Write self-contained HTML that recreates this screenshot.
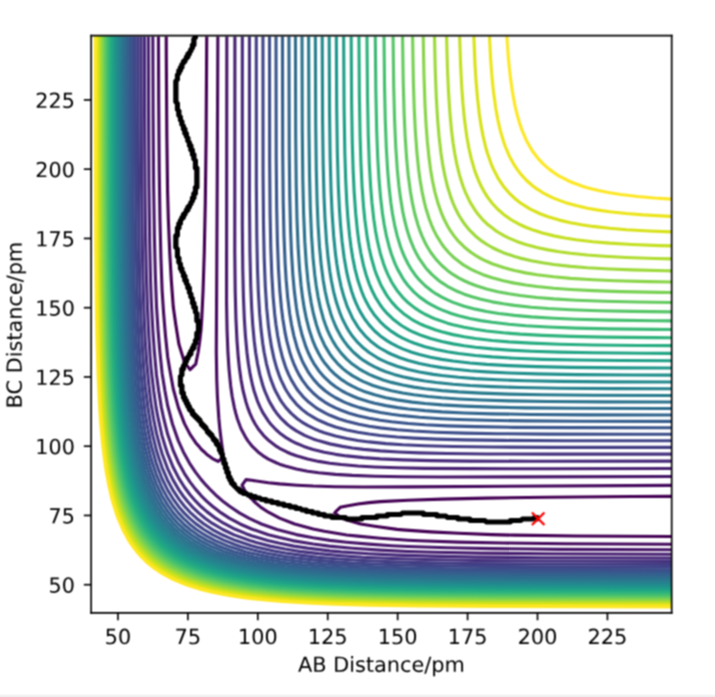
<!DOCTYPE html>
<html><head><meta charset="utf-8"><title>Potential energy surface</title>
<style>html,body{margin:0;padding:0;background:#fff;width:715px;height:697px;overflow:hidden;font-family:"Liberation Sans",sans-serif;}#fig{position:absolute;left:0;top:0;width:715px;height:697px;}#fig svg{display:block}#bar{position:absolute;left:0;top:694px;width:715px;height:3px;background:linear-gradient(#fbfbfb,#ececec);}</style></head>
<body><div id="fig"><svg width="715" height="697" viewBox="0 0 343.2 334.56" version="1.1">
 
 <defs>
  <style type="text/css">*{stroke-linejoin: round; stroke-linecap: butt}</style>
 </defs>
 <filter id="soft" x="0" y="0" width="343.2" height="334.56" filterUnits="userSpaceOnUse" color-interpolation-filters="sRGB"><feConvolveMatrix order="3" kernelMatrix="1 2 1 2 4 2 1 2 1" divisor="16" edgeMode="duplicate" preserveAlpha="false"/></filter><g id="figure_1" filter="url(#soft)">
  <g id="patch_1">
   <path d="M 0 334.56 
L 343.2 334.56 
L 343.2 0 
L 0 0 
z
" style="fill: #ffffff"/>
  </g>
  <g id="axes_1">
   <g id="patch_2">
    <path d="M 43.7472 294.216 
L 322.416 294.216 
L 322.416 17.112 
L 43.7472 17.112 
z
" style="fill: #ffffff"/>
   </g>
   <g id="matplotlib.axis_1">
    <g id="xtick_1">
     <g id="line2d_1">
      <defs>
       <path id="m1504cfccaf" d="M 0 0 
L 0 3.5 
" style="stroke: #000000; stroke-width: 0.8"/>
      </defs>
      <g>
       <use href="#m1504cfccaf" x="56.612839" y="294.216" style="stroke: #000000; stroke-width: 0.8"/>
      </g>
     </g>
     <g id="text_1" transform="translate(0.0000 0.3360)">
      <!-- 50 -->
      <g transform="translate(50.250339 308.814438) scale(0.1 -0.1)">
       <defs>
        <path id="DejaVuSans-35" d="M 691 4666 
L 3169 4666 
L 3169 4134 
L 1269 4134 
L 1269 2991 
Q 1406 3038 1543 3061 
Q 1681 3084 1819 3084 
Q 2600 3084 3056 2656 
Q 3513 2228 3513 1497 
Q 3513 744 3044 326 
Q 2575 -91 1722 -91 
Q 1428 -91 1123 -41 
Q 819 9 494 109 
L 494 744 
Q 775 591 1075 516 
Q 1375 441 1709 441 
Q 2250 441 2565 725 
Q 2881 1009 2881 1497 
Q 2881 1984 2565 2268 
Q 2250 2553 1709 2553 
Q 1456 2553 1204 2497 
Q 953 2441 691 2322 
L 691 4666 
z
" transform="scale(0.015625)"/>
        <path id="DejaVuSans-30" d="M 2034 4250 
Q 1547 4250 1301 3770 
Q 1056 3291 1056 2328 
Q 1056 1369 1301 889 
Q 1547 409 2034 409 
Q 2525 409 2770 889 
Q 3016 1369 3016 2328 
Q 3016 3291 2770 3770 
Q 2525 4250 2034 4250 
z
M 2034 4750 
Q 2819 4750 3233 4129 
Q 3647 3509 3647 2328 
Q 3647 1150 3233 529 
Q 2819 -91 2034 -91 
Q 1250 -91 836 529 
Q 422 1150 422 2328 
Q 422 3509 836 4129 
Q 1250 4750 2034 4750 
z
" transform="scale(0.015625)"/>
       </defs>
       <use href="#DejaVuSans-35"/>
       <use href="#DejaVuSans-30" transform="translate(63.623047 0)"/>
      </g>
     </g>
    </g>
    <g id="xtick_2">
     <g id="line2d_2">
      <g>
       <use href="#m1504cfccaf" x="90.178302" y="294.216" style="stroke: #000000; stroke-width: 0.8"/>
      </g>
     </g>
     <g id="text_2" transform="translate(0.0000 0.3360)">
      <!-- 75 -->
      <g transform="translate(83.815802 308.814438) scale(0.1 -0.1)">
       <defs>
        <path id="DejaVuSans-37" d="M 525 4666 
L 3525 4666 
L 3525 4397 
L 1831 0 
L 1172 0 
L 2766 4134 
L 525 4134 
L 525 4666 
z
" transform="scale(0.015625)"/>
       </defs>
       <use href="#DejaVuSans-37"/>
       <use href="#DejaVuSans-35" transform="translate(63.623047 0)"/>
      </g>
     </g>
    </g>
    <g id="xtick_3">
     <g id="line2d_3">
      <g>
       <use href="#m1504cfccaf" x="123.743766" y="294.216" style="stroke: #000000; stroke-width: 0.8"/>
      </g>
     </g>
     <g id="text_3" transform="translate(0.0000 0.3360)">
      <!-- 100 -->
      <g transform="translate(114.200016 308.814438) scale(0.1 -0.1)">
       <defs>
        <path id="DejaVuSans-31" d="M 794 531 
L 1825 531 
L 1825 4091 
L 703 3866 
L 703 4441 
L 1819 4666 
L 2450 4666 
L 2450 531 
L 3481 531 
L 3481 0 
L 794 0 
L 794 531 
z
" transform="scale(0.015625)"/>
       </defs>
       <use href="#DejaVuSans-31"/>
       <use href="#DejaVuSans-30" transform="translate(63.623047 0)"/>
       <use href="#DejaVuSans-30" transform="translate(127.246094 0)"/>
      </g>
     </g>
    </g>
    <g id="xtick_4">
     <g id="line2d_4">
      <g>
       <use href="#m1504cfccaf" x="157.309229" y="294.216" style="stroke: #000000; stroke-width: 0.8"/>
      </g>
     </g>
     <g id="text_4" transform="translate(0.0000 0.3360)">
      <!-- 125 -->
      <g transform="translate(147.765479 308.814438) scale(0.1 -0.1)">
       <defs>
        <path id="DejaVuSans-32" d="M 1228 531 
L 3431 531 
L 3431 0 
L 469 0 
L 469 531 
Q 828 903 1448 1529 
Q 2069 2156 2228 2338 
Q 2531 2678 2651 2914 
Q 2772 3150 2772 3378 
Q 2772 3750 2511 3984 
Q 2250 4219 1831 4219 
Q 1534 4219 1204 4116 
Q 875 4013 500 3803 
L 500 4441 
Q 881 4594 1212 4672 
Q 1544 4750 1819 4750 
Q 2544 4750 2975 4387 
Q 3406 4025 3406 3419 
Q 3406 3131 3298 2873 
Q 3191 2616 2906 2266 
Q 2828 2175 2409 1742 
Q 1991 1309 1228 531 
z
" transform="scale(0.015625)"/>
       </defs>
       <use href="#DejaVuSans-31"/>
       <use href="#DejaVuSans-32" transform="translate(63.623047 0)"/>
       <use href="#DejaVuSans-35" transform="translate(127.246094 0)"/>
      </g>
     </g>
    </g>
    <g id="xtick_5">
     <g id="line2d_5">
      <g>
       <use href="#m1504cfccaf" x="190.874693" y="294.216" style="stroke: #000000; stroke-width: 0.8"/>
      </g>
     </g>
     <g id="text_5" transform="translate(0.0000 0.3360)">
      <!-- 150 -->
      <g transform="translate(181.330943 308.814438) scale(0.1 -0.1)">
       <use href="#DejaVuSans-31"/>
       <use href="#DejaVuSans-35" transform="translate(63.623047 0)"/>
       <use href="#DejaVuSans-30" transform="translate(127.246094 0)"/>
      </g>
     </g>
    </g>
    <g id="xtick_6">
     <g id="line2d_6">
      <g>
       <use href="#m1504cfccaf" x="224.440156" y="294.216" style="stroke: #000000; stroke-width: 0.8"/>
      </g>
     </g>
     <g id="text_6" transform="translate(0.0000 0.3360)">
      <!-- 175 -->
      <g transform="translate(214.896406 308.814438) scale(0.1 -0.1)">
       <use href="#DejaVuSans-31"/>
       <use href="#DejaVuSans-37" transform="translate(63.623047 0)"/>
       <use href="#DejaVuSans-35" transform="translate(127.246094 0)"/>
      </g>
     </g>
    </g>
    <g id="xtick_7">
     <g id="line2d_7">
      <g>
       <use href="#m1504cfccaf" x="258.005619" y="294.216" style="stroke: #000000; stroke-width: 0.8"/>
      </g>
     </g>
     <g id="text_7" transform="translate(0.0000 0.3360)">
      <!-- 200 -->
      <g transform="translate(248.461869 308.814438) scale(0.1 -0.1)">
       <use href="#DejaVuSans-32"/>
       <use href="#DejaVuSans-30" transform="translate(63.623047 0)"/>
       <use href="#DejaVuSans-30" transform="translate(127.246094 0)"/>
      </g>
     </g>
    </g>
    <g id="xtick_8">
     <g id="line2d_8">
      <g>
       <use href="#m1504cfccaf" x="291.571083" y="294.216" style="stroke: #000000; stroke-width: 0.8"/>
      </g>
     </g>
     <g id="text_8" transform="translate(0.0000 0.3360)">
      <!-- 225 -->
      <g transform="translate(282.027333 308.814438) scale(0.1 -0.1)">
       <use href="#DejaVuSans-32"/>
       <use href="#DejaVuSans-32" transform="translate(63.623047 0)"/>
       <use href="#DejaVuSans-35" transform="translate(127.246094 0)"/>
      </g>
     </g>
    </g>
    <g id="text_9">
     <!-- AB Distance/pm -->
     <g transform="translate(143.05035 322.492563) scale(0.1 -0.1)">
      <defs>
       <path id="DejaVuSans-41" d="M 2188 4044 
L 1331 1722 
L 3047 1722 
L 2188 4044 
z
M 1831 4666 
L 2547 4666 
L 4325 0 
L 3669 0 
L 3244 1197 
L 1141 1197 
L 716 0 
L 50 0 
L 1831 4666 
z
" transform="scale(0.015625)"/>
       <path id="DejaVuSans-42" d="M 1259 2228 
L 1259 519 
L 2272 519 
Q 2781 519 3026 730 
Q 3272 941 3272 1375 
Q 3272 1813 3026 2020 
Q 2781 2228 2272 2228 
L 1259 2228 
z
M 1259 4147 
L 1259 2741 
L 2194 2741 
Q 2656 2741 2882 2914 
Q 3109 3088 3109 3444 
Q 3109 3797 2882 3972 
Q 2656 4147 2194 4147 
L 1259 4147 
z
M 628 4666 
L 2241 4666 
Q 2963 4666 3353 4366 
Q 3744 4066 3744 3513 
Q 3744 3084 3544 2831 
Q 3344 2578 2956 2516 
Q 3422 2416 3680 2098 
Q 3938 1781 3938 1306 
Q 3938 681 3513 340 
Q 3088 0 2303 0 
L 628 0 
L 628 4666 
z
" transform="scale(0.015625)"/>
       <path id="DejaVuSans-20" transform="scale(0.015625)"/>
       <path id="DejaVuSans-44" d="M 1259 4147 
L 1259 519 
L 2022 519 
Q 2988 519 3436 956 
Q 3884 1394 3884 2338 
Q 3884 3275 3436 3711 
Q 2988 4147 2022 4147 
L 1259 4147 
z
M 628 4666 
L 1925 4666 
Q 3281 4666 3915 4102 
Q 4550 3538 4550 2338 
Q 4550 1131 3912 565 
Q 3275 0 1925 0 
L 628 0 
L 628 4666 
z
" transform="scale(0.015625)"/>
       <path id="DejaVuSans-69" d="M 603 3500 
L 1178 3500 
L 1178 0 
L 603 0 
L 603 3500 
z
M 603 4863 
L 1178 4863 
L 1178 4134 
L 603 4134 
L 603 4863 
z
" transform="scale(0.015625)"/>
       <path id="DejaVuSans-73" d="M 2834 3397 
L 2834 2853 
Q 2591 2978 2328 3040 
Q 2066 3103 1784 3103 
Q 1356 3103 1142 2972 
Q 928 2841 928 2578 
Q 928 2378 1081 2264 
Q 1234 2150 1697 2047 
L 1894 2003 
Q 2506 1872 2764 1633 
Q 3022 1394 3022 966 
Q 3022 478 2636 193 
Q 2250 -91 1575 -91 
Q 1294 -91 989 -36 
Q 684 19 347 128 
L 347 722 
Q 666 556 975 473 
Q 1284 391 1588 391 
Q 1994 391 2212 530 
Q 2431 669 2431 922 
Q 2431 1156 2273 1281 
Q 2116 1406 1581 1522 
L 1381 1569 
Q 847 1681 609 1914 
Q 372 2147 372 2553 
Q 372 3047 722 3315 
Q 1072 3584 1716 3584 
Q 2034 3584 2315 3537 
Q 2597 3491 2834 3397 
z
" transform="scale(0.015625)"/>
       <path id="DejaVuSans-74" d="M 1172 4494 
L 1172 3500 
L 2356 3500 
L 2356 3053 
L 1172 3053 
L 1172 1153 
Q 1172 725 1289 603 
Q 1406 481 1766 481 
L 2356 481 
L 2356 0 
L 1766 0 
Q 1100 0 847 248 
Q 594 497 594 1153 
L 594 3053 
L 172 3053 
L 172 3500 
L 594 3500 
L 594 4494 
L 1172 4494 
z
" transform="scale(0.015625)"/>
       <path id="DejaVuSans-61" d="M 2194 1759 
Q 1497 1759 1228 1600 
Q 959 1441 959 1056 
Q 959 750 1161 570 
Q 1363 391 1709 391 
Q 2188 391 2477 730 
Q 2766 1069 2766 1631 
L 2766 1759 
L 2194 1759 
z
M 3341 1997 
L 3341 0 
L 2766 0 
L 2766 531 
Q 2569 213 2275 61 
Q 1981 -91 1556 -91 
Q 1019 -91 701 211 
Q 384 513 384 1019 
Q 384 1609 779 1909 
Q 1175 2209 1959 2209 
L 2766 2209 
L 2766 2266 
Q 2766 2663 2505 2880 
Q 2244 3097 1772 3097 
Q 1472 3097 1187 3025 
Q 903 2953 641 2809 
L 641 3341 
Q 956 3463 1253 3523 
Q 1550 3584 1831 3584 
Q 2591 3584 2966 3190 
Q 3341 2797 3341 1997 
z
" transform="scale(0.015625)"/>
       <path id="DejaVuSans-6e" d="M 3513 2113 
L 3513 0 
L 2938 0 
L 2938 2094 
Q 2938 2591 2744 2837 
Q 2550 3084 2163 3084 
Q 1697 3084 1428 2787 
Q 1159 2491 1159 1978 
L 1159 0 
L 581 0 
L 581 3500 
L 1159 3500 
L 1159 2956 
Q 1366 3272 1645 3428 
Q 1925 3584 2291 3584 
Q 2894 3584 3203 3211 
Q 3513 2838 3513 2113 
z
" transform="scale(0.015625)"/>
       <path id="DejaVuSans-63" d="M 3122 3366 
L 3122 2828 
Q 2878 2963 2633 3030 
Q 2388 3097 2138 3097 
Q 1578 3097 1268 2742 
Q 959 2388 959 1747 
Q 959 1106 1268 751 
Q 1578 397 2138 397 
Q 2388 397 2633 464 
Q 2878 531 3122 666 
L 3122 134 
Q 2881 22 2623 -34 
Q 2366 -91 2075 -91 
Q 1284 -91 818 406 
Q 353 903 353 1747 
Q 353 2603 823 3093 
Q 1294 3584 2113 3584 
Q 2378 3584 2631 3529 
Q 2884 3475 3122 3366 
z
" transform="scale(0.015625)"/>
       <path id="DejaVuSans-65" d="M 3597 1894 
L 3597 1613 
L 953 1613 
Q 991 1019 1311 708 
Q 1631 397 2203 397 
Q 2534 397 2845 478 
Q 3156 559 3463 722 
L 3463 178 
Q 3153 47 2828 -22 
Q 2503 -91 2169 -91 
Q 1331 -91 842 396 
Q 353 884 353 1716 
Q 353 2575 817 3079 
Q 1281 3584 2069 3584 
Q 2775 3584 3186 3129 
Q 3597 2675 3597 1894 
z
M 3022 2063 
Q 3016 2534 2758 2815 
Q 2500 3097 2075 3097 
Q 1594 3097 1305 2825 
Q 1016 2553 972 2059 
L 3022 2063 
z
" transform="scale(0.015625)"/>
       <path id="DejaVuSans-2f" d="M 1625 4666 
L 2156 4666 
L 531 -594 
L 0 -594 
L 1625 4666 
z
" transform="scale(0.015625)"/>
       <path id="DejaVuSans-70" d="M 1159 525 
L 1159 -1331 
L 581 -1331 
L 581 3500 
L 1159 3500 
L 1159 2969 
Q 1341 3281 1617 3432 
Q 1894 3584 2278 3584 
Q 2916 3584 3314 3078 
Q 3713 2572 3713 1747 
Q 3713 922 3314 415 
Q 2916 -91 2278 -91 
Q 1894 -91 1617 61 
Q 1341 213 1159 525 
z
M 3116 1747 
Q 3116 2381 2855 2742 
Q 2594 3103 2138 3103 
Q 1681 3103 1420 2742 
Q 1159 2381 1159 1747 
Q 1159 1113 1420 752 
Q 1681 391 2138 391 
Q 2594 391 2855 752 
Q 3116 1113 3116 1747 
z
" transform="scale(0.015625)"/>
       <path id="DejaVuSans-6d" d="M 3328 2828 
Q 3544 3216 3844 3400 
Q 4144 3584 4550 3584 
Q 5097 3584 5394 3201 
Q 5691 2819 5691 2113 
L 5691 0 
L 5113 0 
L 5113 2094 
Q 5113 2597 4934 2840 
Q 4756 3084 4391 3084 
Q 3944 3084 3684 2787 
Q 3425 2491 3425 1978 
L 3425 0 
L 2847 0 
L 2847 2094 
Q 2847 2600 2669 2842 
Q 2491 3084 2119 3084 
Q 1678 3084 1418 2786 
Q 1159 2488 1159 1978 
L 1159 0 
L 581 0 
L 581 3500 
L 1159 3500 
L 1159 2956 
Q 1356 3278 1631 3431 
Q 1906 3584 2284 3584 
Q 2666 3584 2933 3390 
Q 3200 3197 3328 2828 
z
" transform="scale(0.015625)"/>
      </defs>
      <use href="#DejaVuSans-41"/>
      <use href="#DejaVuSans-42" transform="translate(68.408203 0)"/>
      <use href="#DejaVuSans-20" transform="translate(137.011719 0)"/>
      <use href="#DejaVuSans-44" transform="translate(168.798828 0)"/>
      <use href="#DejaVuSans-69" transform="translate(245.800781 0)"/>
      <use href="#DejaVuSans-73" transform="translate(273.583984 0)"/>
      <use href="#DejaVuSans-74" transform="translate(325.683594 0)"/>
      <use href="#DejaVuSans-61" transform="translate(364.892578 0)"/>
      <use href="#DejaVuSans-6e" transform="translate(426.171875 0)"/>
      <use href="#DejaVuSans-63" transform="translate(489.550781 0)"/>
      <use href="#DejaVuSans-65" transform="translate(544.53125 0)"/>
      <use href="#DejaVuSans-2f" transform="translate(606.054688 0)"/>
      <use href="#DejaVuSans-70" transform="translate(639.746094 0)"/>
      <use href="#DejaVuSans-6d" transform="translate(703.222656 0)"/>
     </g>
    </g>
   </g>
   <g id="matplotlib.axis_2">
    <g id="ytick_1">
     <g id="line2d_9">
      <defs>
       <path id="m5d545ce8f8" d="M 0 0 
L -3.5 0 
" style="stroke: #000000; stroke-width: 0.8"/>
      </defs>
      <g>
       <use href="#m5d545ce8f8" x="43.7472" y="280.661298" style="stroke: #000000; stroke-width: 0.8"/>
      </g>
     </g>
     <g id="text_10" transform="translate(-0.7680 0.0000)">
      <!-- 50 -->
      <g transform="translate(24.0222 284.460516) scale(0.1 -0.1)">
       <use href="#DejaVuSans-35"/>
       <use href="#DejaVuSans-30" transform="translate(63.623047 0)"/>
      </g>
     </g>
    </g>
    <g id="ytick_2">
     <g id="line2d_10">
      <g>
       <use href="#m5d545ce8f8" x="43.7472" y="247.420156" style="stroke: #000000; stroke-width: 0.8"/>
      </g>
     </g>
     <g id="text_11" transform="translate(-0.7680 0.0000)">
      <!-- 75 -->
      <g transform="translate(24.0222 251.219375) scale(0.1 -0.1)">
       <use href="#DejaVuSans-37"/>
       <use href="#DejaVuSans-35" transform="translate(63.623047 0)"/>
      </g>
     </g>
    </g>
    <g id="ytick_3">
     <g id="line2d_11">
      <g>
       <use href="#m5d545ce8f8" x="43.7472" y="214.179015" style="stroke: #000000; stroke-width: 0.8"/>
      </g>
     </g>
     <g id="text_12" transform="translate(-0.7680 0.0000)">
      <!-- 100 -->
      <g transform="translate(17.6597 217.978233) scale(0.1 -0.1)">
       <use href="#DejaVuSans-31"/>
       <use href="#DejaVuSans-30" transform="translate(63.623047 0)"/>
       <use href="#DejaVuSans-30" transform="translate(127.246094 0)"/>
      </g>
     </g>
    </g>
    <g id="ytick_4">
     <g id="line2d_12">
      <g>
       <use href="#m5d545ce8f8" x="43.7472" y="180.937873" style="stroke: #000000; stroke-width: 0.8"/>
      </g>
     </g>
     <g id="text_13" transform="translate(-0.7680 0.0000)">
      <!-- 125 -->
      <g transform="translate(17.6597 184.737092) scale(0.1 -0.1)">
       <use href="#DejaVuSans-31"/>
       <use href="#DejaVuSans-32" transform="translate(63.623047 0)"/>
       <use href="#DejaVuSans-35" transform="translate(127.246094 0)"/>
      </g>
     </g>
    </g>
    <g id="ytick_5">
     <g id="line2d_13">
      <g>
       <use href="#m5d545ce8f8" x="43.7472" y="147.696732" style="stroke: #000000; stroke-width: 0.8"/>
      </g>
     </g>
     <g id="text_14" transform="translate(-0.7680 0.0000)">
      <!-- 150 -->
      <g transform="translate(17.6597 151.495951) scale(0.1 -0.1)">
       <use href="#DejaVuSans-31"/>
       <use href="#DejaVuSans-35" transform="translate(63.623047 0)"/>
       <use href="#DejaVuSans-30" transform="translate(127.246094 0)"/>
      </g>
     </g>
    </g>
    <g id="ytick_6">
     <g id="line2d_14">
      <g>
       <use href="#m5d545ce8f8" x="43.7472" y="114.45559" style="stroke: #000000; stroke-width: 0.8"/>
      </g>
     </g>
     <g id="text_15" transform="translate(-0.7680 0.0000)">
      <!-- 175 -->
      <g transform="translate(17.6597 118.254809) scale(0.1 -0.1)">
       <use href="#DejaVuSans-31"/>
       <use href="#DejaVuSans-37" transform="translate(63.623047 0)"/>
       <use href="#DejaVuSans-35" transform="translate(127.246094 0)"/>
      </g>
     </g>
    </g>
    <g id="ytick_7">
     <g id="line2d_15">
      <g>
       <use href="#m5d545ce8f8" x="43.7472" y="81.214449" style="stroke: #000000; stroke-width: 0.8"/>
      </g>
     </g>
     <g id="text_16" transform="translate(-0.7680 0.0000)">
      <!-- 200 -->
      <g transform="translate(17.6597 85.013668) scale(0.1 -0.1)">
       <use href="#DejaVuSans-32"/>
       <use href="#DejaVuSans-30" transform="translate(63.623047 0)"/>
       <use href="#DejaVuSans-30" transform="translate(127.246094 0)"/>
      </g>
     </g>
    </g>
    <g id="ytick_8">
     <g id="line2d_16">
      <g>
       <use href="#m5d545ce8f8" x="43.7472" y="47.973308" style="stroke: #000000; stroke-width: 0.8"/>
      </g>
     </g>
     <g id="text_17" transform="translate(-0.7680 0.0000)">
      <!-- 225 -->
      <g transform="translate(17.6597 51.772526) scale(0.1 -0.1)">
       <use href="#DejaVuSans-32"/>
       <use href="#DejaVuSans-32" transform="translate(63.623047 0)"/>
       <use href="#DejaVuSans-35" transform="translate(127.246094 0)"/>
      </g>
     </g>
    </g>
    <g id="text_18" transform="translate(-1.1520 0.3840)">
     <!-- BC Distance/pm -->
     <g transform="translate(11.580012 195.678844) rotate(-90) scale(0.1 -0.1)">
      <defs>
       <path id="DejaVuSans-43" d="M 4122 4306 
L 4122 3641 
Q 3803 3938 3442 4084 
Q 3081 4231 2675 4231 
Q 1875 4231 1450 3742 
Q 1025 3253 1025 2328 
Q 1025 1406 1450 917 
Q 1875 428 2675 428 
Q 3081 428 3442 575 
Q 3803 722 4122 1019 
L 4122 359 
Q 3791 134 3420 21 
Q 3050 -91 2638 -91 
Q 1578 -91 968 557 
Q 359 1206 359 2328 
Q 359 3453 968 4101 
Q 1578 4750 2638 4750 
Q 3056 4750 3426 4639 
Q 3797 4528 4122 4306 
z
" transform="scale(0.015625)"/>
      </defs>
      <use href="#DejaVuSans-42"/>
      <use href="#DejaVuSans-43" transform="translate(66.853516 0)"/>
      <use href="#DejaVuSans-20" transform="translate(136.677734 0)"/>
      <use href="#DejaVuSans-44" transform="translate(168.464844 0)"/>
      <use href="#DejaVuSans-69" transform="translate(245.466797 0)"/>
      <use href="#DejaVuSans-73" transform="translate(273.25 0)"/>
      <use href="#DejaVuSans-74" transform="translate(325.349609 0)"/>
      <use href="#DejaVuSans-61" transform="translate(364.558594 0)"/>
      <use href="#DejaVuSans-6e" transform="translate(425.837891 0)"/>
      <use href="#DejaVuSans-63" transform="translate(489.216797 0)"/>
      <use href="#DejaVuSans-65" transform="translate(544.197266 0)"/>
      <use href="#DejaVuSans-2f" transform="translate(605.720703 0)"/>
      <use href="#DejaVuSans-70" transform="translate(639.412109 0)"/>
      <use href="#DejaVuSans-6d" transform="translate(702.888672 0)"/>
     </g>
    </g>
   </g>
   <g id="QuadContourSet_1">
    <path d="M 322.163309 257.520583 
L 276.514279 257.253657 
L 246.976671 256.878626 
L 236.235723 256.597695 
L 220.1243 255.980002 
L 206.698115 255.274947 
L 193.27193 254.346726 
L 190.586693 254.109467 
L 179.845744 252.579387 
L 173.067404 251.505093 
L 164.162811 248.845802 
L 163.734322 248.485973 
L 160.666767 246.186511 
L 161.049085 245.686385 
L 163.314465 243.527219 
L 166.419559 242.840737 
L 171.790033 241.945107 
L 177.160507 241.280849 
L 182.530981 240.79427 
L 195.957167 240.127298 
L 212.068589 239.57893 
L 233.550486 239.086892 
L 263.088094 238.665541 
L 303.36665 238.349594 
L 322.163309 238.260662 
M 99.236099 17.487457 
L 98.934609 65.354701 
L 98.541195 97.266197 
L 98.049865 121.199819 
L 97.458748 139.814858 
L 96.83471 153.111314 
L 96.463006 158.429897 
L 95.873638 163.74848 
L 95.100561 169.067062 
L 94.023861 174.385645 
L 93.918158 174.801445 
L 91.232921 177.42356 
L 90.967822 177.044936 
L 88.547684 173.961296 
L 85.862447 165.142742 
L 84.371325 155.770606 
L 83.17721 147.36878 
L 82.223668 134.496275 
L 81.470583 121.199819 
L 80.809549 105.244071 
L 80.436487 91.947614 
L 80.083064 65.354701 
L 79.831324 28.124623 
L 79.788266 17.487457 
L 79.788266 17.487457 
" clip-path="url(#pe00941e252)" style="fill: none; stroke: #440154; stroke-width: 1.5"/>
    <path d="M 322.163309 261.222498 
L 271.143805 260.972512 
L 241.606197 260.63348 
L 220.1243 260.192456 
L 201.327641 259.574745 
L 195.957167 259.295317 
L 182.530981 258.339736 
L 171.790033 257.357733 
L 166.419559 256.768469 
L 155.678611 254.977998 
L 150.308137 253.912538 
L 141.445086 251.505093 
L 134.196714 248.690187 
L 128.82624 245.858493 
L 125.260345 243.527219 
L 122.069817 240.867928 
L 120.770529 239.403517 
L 119.530981 238.208637 
L 117.532769 235.549345 
L 116.207066 232.890054 
L 118.085292 230.2206 
L 120.770529 230.532055 
L 128.82624 231.691611 
L 134.196714 232.266184 
L 142.598791 232.890054 
L 150.308137 233.308093 
L 161.049085 233.613134 
L 174.47527 233.74125 
L 195.957167 233.685018 
L 322.163309 232.983397 
M 104.564853 17.487457 
L 104.286921 83.96974 
L 103.827734 169.067062 
L 104.051842 182.363519 
L 104.359584 190.341393 
L 105.054932 200.978558 
L 105.559219 206.297141 
L 106.222151 211.615723 
L 107.344343 219.681434 
L 104.659106 221.453675 
L 101.973869 220.140782 
L 101.327374 219.593597 
L 99.288632 218.161876 
L 98.082094 216.934306 
L 96.603395 215.647572 
L 95.519907 214.275015 
L 93.918158 212.487872 
L 93.369584 211.615723 
L 91.232921 208.50019 
L 88.547684 203.350255 
L 85.633505 195.659976 
L 83.17721 186.727017 
L 81.418507 177.044936 
L 80.491973 171.360035 
L 79.430159 161.089188 
L 78.541597 150.452023 
L 77.806736 139.322867 
L 77.241426 123.85911 
L 76.786411 105.244071 
L 76.430278 81.310449 
L 76.163025 46.739662 
L 76.050233 17.487457 
L 76.050233 17.487457 
" clip-path="url(#pe00941e252)" style="fill: none; stroke: #460b5e; stroke-width: 1.5"/>
    <path d="M 322.163309 263.891549 
L 268.458568 263.671728 
L 236.235723 263.33798 
L 214.753826 262.922197 
L 195.957167 262.331396 
L 187.901456 261.939941 
L 177.160507 261.203975 
L 166.419559 260.270071 
L 158.363848 259.396537 
L 150.308137 258.114342 
L 142.252425 256.604504 
L 132.922498 254.164384 
L 125.458157 251.505093 
L 119.647472 248.845802 
L 114.87859 246.186511 
L 110.02958 242.898109 
L 107.317582 240.867928 
L 104.237916 238.208637 
L 101.452348 235.549345 
L 98.914197 232.890054 
L 96.582358 230.230763 
L 93.918158 226.748749 
L 90.935067 222.252889 
L 88.024087 216.934306 
L 85.607418 211.615723 
L 82.822117 203.637849 
L 80.491973 194.764538 
L 79.188714 187.682102 
L 77.806736 179.107832 
L 76.755308 169.067062 
L 75.865927 158.429897 
L 75.121498 146.984469 
L 74.556854 131.836984 
L 74.096988 113.221945 
L 73.742516 89.288323 
L 73.481996 54.717536 
L 73.355141 17.487457 
M 108.872284 17.487457 
L 108.739799 145.133441 
L 108.991108 158.429897 
L 109.400955 169.067062 
L 109.922282 177.044936 
L 110.694889 185.02281 
L 111.44694 190.341393 
L 112.497712 195.659976 
L 113.15041 198.319267 
L 113.918385 200.978558 
L 115.400055 204.970168 
L 115.969125 206.297141 
L 118.085292 210.215876 
L 119.003007 211.615723 
L 121.123862 214.275015 
L 123.863305 216.934306 
L 126.141003 218.684749 
L 128.82624 220.347771 
L 132.851397 222.252889 
L 134.196714 222.795846 
L 136.881951 223.720241 
L 142.252425 225.127188 
L 147.622899 226.167807 
L 152.993374 226.912591 
L 161.049085 227.677733 
L 169.104796 228.194023 
L 179.845744 228.59991 
L 193.27193 228.84879 
L 212.068589 228.959737 
L 249.661908 228.904802 
L 322.163309 228.717586 
L 322.163309 228.717586 
" clip-path="url(#pe00941e252)" style="fill: none; stroke: #481769; stroke-width: 1.5"/>
    <path d="M 322.163309 266.038622 
L 263.088094 265.82417 
L 230.865249 265.507718 
L 209.383352 265.10811 
L 195.957167 264.707762 
L 182.530981 264.048187 
L 169.104796 263.140257 
L 157.979448 262.142258 
L 150.308137 261.093326 
L 140.393381 259.482967 
L 134.196714 258.047346 
L 128.82624 256.665868 
L 120.770529 253.907084 
L 115.238241 251.505093 
L 110.02958 248.690249 
L 106.16698 246.186511 
L 101.973869 242.988653 
L 99.288632 240.643466 
L 96.603395 237.971235 
L 93.918158 234.910548 
L 91.232921 231.39675 
L 88.547684 227.323384 
L 85.787576 222.252889 
L 83.17721 216.322752 
L 80.491973 208.459246 
L 78.610734 200.978558 
L 77.475673 195.659976 
L 76.180665 187.682102 
L 75.081089 179.704228 
L 74.113763 169.067062 
L 73.357912 158.429897 
L 72.647459 145.133441 
L 72.265776 134.496275 
L 71.850175 115.881236 
L 71.507926 89.288323 
L 71.28096 52.058244 
L 71.18712 17.487457 
M 112.749838 17.487457 
L 112.694846 121.199819 
L 112.904602 139.814858 
L 113.254574 153.111314 
L 113.768173 163.74848 
L 114.384583 171.726354 
L 114.963476 177.044936 
L 115.72044 182.363519 
L 116.715231 187.682102 
L 118.085292 193.030908 
L 118.919662 195.659976 
L 119.922865 198.319267 
L 121.119693 200.978558 
L 122.549958 203.637849 
L 124.294412 206.297141 
L 126.450163 208.956432 
L 129.177781 211.615723 
L 132.74638 214.275015 
L 134.196714 215.172071 
L 137.635691 216.934306 
L 139.567188 217.773779 
L 142.252425 218.767289 
L 147.622899 220.33087 
L 152.993374 221.48036 
L 158.363848 222.331313 
L 163.734322 222.992036 
L 171.790033 223.692637 
L 179.845744 224.157497 
L 190.586693 224.545408 
L 204.012878 224.807314 
L 225.494775 224.969794 
L 263.088094 224.976463 
L 322.163309 224.877497 
L 322.163309 224.877497 
" clip-path="url(#pe00941e252)" style="fill: none; stroke: #482071; stroke-width: 1.5"/>
    <path d="M 322.163309 267.902909 
L 260.402856 267.707341 
L 228.180012 267.412045 
L 206.698115 266.966798 
L 190.586693 266.435898 
L 177.160507 265.798603 
L 163.734322 264.913786 
L 158.363848 264.398024 
L 147.622899 263.103077 
L 141.010118 262.142258 
L 134.196714 260.770174 
L 128.484168 259.482967 
L 120.770529 257.145153 
L 118.085292 256.157202 
L 112.714818 253.929392 
L 107.344343 251.136714 
L 103.66735 248.845802 
L 99.288632 245.579667 
L 96.603395 243.252578 
L 93.918158 240.575437 
L 91.232921 237.474385 
L 88.547684 233.872227 
L 85.862447 229.614085 
L 83.17721 224.430792 
L 80.491973 217.899703 
L 79.318723 214.275015 
L 77.722463 208.956432 
L 75.93926 200.978558 
L 74.925674 195.659976 
L 73.795564 187.682102 
L 72.562111 177.044936 
L 72.120409 171.726354 
L 71.429481 161.089188 
L 70.785967 147.792732 
L 70.249888 131.836984 
L 69.844285 113.221945 
L 69.596124 91.947614 
L 69.383276 52.058244 
L 69.304644 17.487457 
M 116.315962 17.487457 
L 116.316065 107.903362 
L 116.530932 129.177693 
L 116.843131 142.474149 
L 117.282498 153.111314 
L 117.792794 161.089188 
L 118.529204 169.067062 
L 119.201912 174.385645 
L 120.086572 179.704228 
L 121.254151 185.02281 
L 121.974276 187.682102 
L 123.455766 192.100841 
L 123.798607 193.000684 
L 124.955155 195.659976 
L 126.33076 198.319267 
L 128.82624 202.148398 
L 130.002812 203.637849 
L 132.507603 206.297141 
L 134.196714 207.791229 
L 136.881951 209.789343 
L 139.916393 211.615723 
L 142.252425 212.790114 
L 145.846285 214.275015 
L 147.622899 214.909755 
L 150.308137 215.74219 
L 155.678611 217.071498 
L 161.049085 218.080178 
L 166.419559 218.84325 
L 174.47527 219.667005 
L 182.530981 220.241038 
L 193.27193 220.734591 
L 206.698115 221.085952 
L 225.494775 221.313076 
L 255.032382 221.404299 
L 322.163309 221.345831 
L 322.163309 221.345831 
" clip-path="url(#pe00941e252)" style="fill: none; stroke: #472a7a; stroke-width: 1.5"/>
    <path d="M 322.163309 269.506763 
L 260.402856 269.306561 
L 228.180012 269.011681 
L 204.012878 268.571274 
L 187.901456 268.086566 
L 173.729541 267.460841 
L 163.734322 266.743825 
L 152.993374 265.755147 
L 144.683909 264.80155 
L 136.881951 263.513241 
L 129.755593 262.142258 
L 123.455766 260.501224 
L 119.882222 259.482967 
L 112.714818 256.868161 
L 112.603996 256.823676 
L 106.957258 254.164384 
L 101.973869 251.241913 
L 98.571727 248.845802 
L 95.348466 246.186511 
L 92.56948 243.527219 
L 90.151958 240.867928 
L 88.01642 238.208637 
L 85.862447 235.154901 
L 82.980372 230.230763 
L 80.447053 224.91218 
L 77.806736 217.81403 
L 76.778544 214.275015 
L 75.121498 208.036059 
L 73.737139 200.978558 
L 72.402963 193.000684 
L 71.47336 185.02281 
L 70.475036 174.385645 
L 69.710861 163.74848 
L 69.119195 150.452023 
L 68.629757 134.496275 
L 68.222207 113.221945 
L 67.922264 83.96974 
L 67.734036 41.421079 
L 67.685141 17.487457 
M 119.717343 17.487457 
L 119.745443 97.266197 
L 119.971913 121.199819 
L 120.349027 137.155567 
L 120.801522 147.792732 
L 121.305905 155.770606 
L 122.035624 163.74848 
L 122.700573 169.067062 
L 123.562358 174.385645 
L 124.681756 179.704228 
L 126.169052 185.02281 
L 127.095642 187.682102 
L 128.82624 191.733709 
L 129.454778 193.000684 
L 131.511477 196.491575 
L 132.803217 198.319267 
L 135.038089 200.978558 
L 137.829401 203.637849 
L 139.567188 205.017882 
L 142.252425 206.831319 
L 146.216999 208.956432 
L 147.622899 209.598466 
L 150.308137 210.670308 
L 153.08438 211.615723 
L 158.363848 213.060871 
L 164.351391 214.275015 
L 169.104796 215.02291 
L 174.47527 215.681435 
L 182.530981 216.404103 
L 191.215819 216.934306 
L 201.327641 217.351735 
L 214.753826 217.680276 
L 233.550486 217.902207 
L 263.088094 218.004009 
L 322.163309 217.977315 
L 322.163309 217.977315 
" clip-path="url(#pe00941e252)" style="fill: none; stroke: #46337f; stroke-width: 1.5"/>
    <path d="M 322.163309 270.943453 
L 255.032382 270.744018 
L 222.809537 270.456401 
L 201.327641 270.078023 
L 185.216218 269.54119 
L 171.790033 268.891604 
L 161.049085 268.189141 
L 152.303191 267.460841 
L 144.937662 266.574748 
L 136.881951 265.419932 
L 131.511477 264.475788 
L 123.455766 262.650171 
L 120.770529 261.946165 
L 113.200821 259.482967 
L 110.02958 258.168762 
L 106.941977 256.823676 
L 101.945106 254.164384 
L 97.896976 251.505093 
L 94.457026 248.845802 
L 91.526877 246.186511 
L 91.232921 245.895394 
L 88.547684 242.993558 
L 85.862447 239.586846 
L 83.160405 235.549345 
L 80.304925 230.230763 
L 77.806736 224.430872 
L 76.166694 219.593597 
L 75.121498 216.275331 
L 73.348906 208.956432 
L 72.248437 203.637849 
L 71.011645 195.659976 
L 69.751024 185.706324 
L 69.015618 177.044936 
L 68.306302 166.407771 
L 67.650378 153.111314 
L 67.108307 137.155567 
L 66.843466 123.85911 
L 66.529671 97.266197 
L 66.318358 57.376827 
L 66.234434 17.487457 
M 123.003187 17.487457 
L 123.051101 89.288323 
L 123.262655 113.221945 
L 123.599787 129.177693 
L 123.992906 139.814858 
L 124.61899 150.452023 
L 125.327068 158.429897 
L 126.141003 164.981693 
L 126.780776 169.067062 
L 127.838262 174.385645 
L 129.226481 179.704228 
L 130.08527 182.363519 
L 131.511477 186.043593 
L 132.24687 187.682102 
L 134.196714 191.325729 
L 135.259436 193.000684 
L 137.22935 195.659976 
L 139.646805 198.319267 
L 142.690524 200.978558 
L 144.937662 202.585396 
L 147.622899 204.209183 
L 151.962631 206.297141 
L 152.993374 206.724636 
L 155.678611 207.709567 
L 161.049085 209.295724 
L 166.419559 210.493174 
L 171.790033 211.41135 
L 177.160507 212.125403 
L 185.216218 212.916694 
L 193.27193 213.469196 
L 204.012878 213.960153 
L 217.439063 214.327219 
L 236.235723 214.588666 
L 265.773331 214.723757 
L 322.163309 214.72322 
L 322.163309 214.72322 
" clip-path="url(#pe00941e252)" style="fill: none; stroke: #433d84; stroke-width: 1.5"/>
    <path d="M 322.163309 272.276623 
L 257.717619 272.088939 
L 222.809537 271.779048 
L 201.327641 271.3981 
L 182.530981 270.839862 
L 169.104796 270.238623 
L 161.049085 269.697878 
L 150.308137 268.749716 
L 142.252425 267.859101 
L 136.881951 267.108149 
L 128.82624 265.671704 
L 123.455766 264.526361 
L 115.400055 262.297536 
L 112.714818 261.360871 
L 107.344343 259.277619 
L 101.973869 256.655103 
L 97.842037 254.164384 
L 93.918158 251.341883 
L 91.00852 248.845802 
L 88.340121 246.186511 
L 85.862447 243.324912 
L 83.17721 239.641254 
L 80.491973 235.249796 
L 77.806736 229.776766 
L 75.91051 224.91218 
L 74.964706 222.252889 
L 72.714135 214.275015 
L 72.09852 211.615723 
L 70.563262 203.637849 
L 69.688716 198.319267 
L 68.730406 190.341393 
L 67.708509 179.704228 
L 66.946141 169.067062 
L 66.339036 155.770606 
L 65.840128 139.814858 
L 65.428037 118.540527 
L 65.128124 89.288323 
L 64.94304 46.739662 
L 64.888257 17.487457 
M 126.208147 17.487457 
L 126.274849 83.96974 
L 126.48775 107.903362 
L 126.819141 123.85911 
L 127.329363 137.155567 
L 128.005943 147.792732 
L 128.82624 156.293218 
L 129.442393 161.089188 
L 130.310876 166.407771 
L 131.511477 172.043724 
L 132.906933 177.044936 
L 134.196714 180.702108 
L 134.871682 182.363519 
L 136.881951 186.483131 
L 137.566363 187.682102 
L 139.567188 190.704673 
L 142.252425 193.928488 
L 144.937662 196.493249 
L 147.622899 198.582364 
L 151.518805 200.978558 
L 152.993374 201.745225 
L 157.356231 203.637849 
L 161.049085 204.915168 
L 166.419559 206.375717 
L 171.790033 207.486141 
L 177.160507 208.346233 
L 182.530981 209.017757 
L 190.586693 209.768803 
L 198.642404 210.298855 
L 209.383352 210.77528 
L 222.809537 211.135849 
L 241.606197 211.394222 
L 271.143805 211.534825 
L 322.163309 211.549228 
L 322.163309 211.549228 
" clip-path="url(#pe00941e252)" style="fill: none; stroke: #404588; stroke-width: 1.5"/>
    <path d="M 322.163309 273.479056 
L 252.347145 273.290595 
L 217.439063 272.985169 
L 198.642404 272.645367 
L 182.530981 272.138058 
L 169.104796 271.52013 
L 158.363848 270.847599 
L 149.332507 270.120132 
L 142.252425 269.303166 
L 134.196714 268.189331 
L 128.82624 267.298909 
L 120.770529 265.528028 
L 117.825011 264.80155 
L 112.714818 263.209811 
L 109.556045 262.142258 
L 103.314149 259.482967 
L 99.288632 257.353991 
L 96.603395 255.705211 
L 93.918158 253.880767 
L 90.9259 251.505093 
L 88.071054 248.845802 
L 85.600242 246.186511 
L 83.17721 243.147191 
L 80.491973 239.127866 
L 78.498035 235.549345 
L 77.192328 232.890054 
L 74.950386 227.571471 
L 73.179104 222.252889 
L 72.367183 219.593597 
L 70.478007 211.615723 
L 69.439106 206.297141 
L 68.242523 198.319267 
L 67.065787 188.648304 
L 66.331223 179.704228 
L 65.65213 169.067062 
L 65.028173 155.770606 
L 64.515914 139.814858 
L 64.209806 123.85911 
L 63.913755 94.606906 
L 63.733229 52.058244 
L 63.674092 17.487457 
M 129.356951 17.487457 
L 129.435414 78.651158 
L 129.647729 102.584779 
L 129.970563 118.540527 
L 130.460481 131.836984 
L 131.102512 142.474149 
L 131.815343 150.452023 
L 132.450015 155.770606 
L 133.257063 161.089188 
L 134.291306 166.407771 
L 135.642368 171.726354 
L 136.881951 175.578484 
L 137.42148 177.044936 
L 138.532968 179.704228 
L 139.826417 182.363519 
L 142.252425 186.366564 
L 143.199499 187.682102 
L 145.415946 190.341393 
L 148.158256 193.000684 
L 151.636509 195.659976 
L 152.993374 196.537997 
L 156.187508 198.319267 
L 158.363848 199.343494 
L 162.529844 200.978558 
L 166.419559 202.206164 
L 172.239556 203.637849 
L 177.160507 204.568421 
L 182.530981 205.367671 
L 190.586693 206.259161 
L 198.642404 206.888697 
L 209.383352 207.457452 
L 222.809537 207.892133 
L 238.92096 208.178356 
L 263.088094 208.365358 
L 306.051887 208.433253 
L 322.163309 208.430849 
L 322.163309 208.430849 
" clip-path="url(#pe00941e252)" style="fill: none; stroke: #3d4e8a; stroke-width: 1.5"/>
    <path d="M 322.163309 274.602325 
L 252.347145 274.410937 
L 217.439063 274.099732 
L 195.957167 273.71324 
L 179.845744 273.24245 
L 166.419559 272.646199 
L 155.678611 271.906237 
L 144.937662 270.936748 
L 136.881951 270.003548 
L 128.82624 268.701153 
L 122.338502 267.460841 
L 118.085292 266.402014 
L 112.324027 264.80155 
L 107.344343 263.022391 
L 104.659106 261.968245 
L 99.288632 259.400672 
L 94.968017 256.823676 
L 91.227498 254.164384 
L 88.136848 251.505093 
L 85.483054 248.845802 
L 83.17294 246.186511 
L 80.491973 242.487504 
L 77.806736 238.059532 
L 75.121498 232.495567 
L 73.241576 227.571471 
L 72.316373 224.91218 
L 70.820182 219.593597 
L 69.517571 214.275015 
L 68.033282 206.297141 
L 67.065787 200.16503 
L 66.241204 193.000684 
L 65.262256 182.363519 
L 64.515075 171.726354 
L 64.121553 163.74848 
L 63.574394 147.792732 
L 63.168939 129.177693 
L 62.844732 102.584779 
L 62.638642 65.354701 
L 62.539864 17.487457 
M 132.47737 17.487457 
L 132.575675 75.991866 
L 132.808453 99.925488 
L 133.154455 115.881236 
L 133.673399 129.177693 
L 134.348589 139.814858 
L 135.096967 147.792732 
L 135.760706 153.111314 
L 136.881951 159.922372 
L 137.686028 163.74848 
L 139.08993 169.067062 
L 139.951381 171.726354 
L 140.951298 174.385645 
L 142.252425 177.357614 
L 143.466416 179.704228 
L 145.060886 182.363519 
L 147.622899 185.800358 
L 150.308137 188.658644 
L 152.993374 190.970858 
L 155.871006 193.000684 
L 158.363848 194.457715 
L 161.049085 195.809273 
L 163.734322 196.948531 
L 167.583372 198.319267 
L 171.790033 199.532114 
L 177.160507 200.754558 
L 182.530981 201.697422 
L 187.901456 202.43682 
L 195.957167 203.267886 
L 204.012878 203.858624 
L 214.753826 204.395394 
L 228.180012 204.809593 
L 246.976671 205.11636 
L 273.829042 205.289457 
L 322.163309 205.34058 
L 322.163309 205.34058 
" clip-path="url(#pe00941e252)" style="fill: none; stroke: #39558c; stroke-width: 1.5"/>
    <path d="M 322.163309 275.683055 
L 249.661908 275.504152 
L 220.1243 275.249862 
L 195.957167 274.819971 
L 179.845744 274.339158 
L 166.419559 273.75041 
L 155.678611 273.106354 
L 147.622899 272.442178 
L 139.567188 271.561407 
L 131.511477 270.490149 
L 126.141003 269.573439 
L 118.085292 267.865547 
L 115.400055 267.187045 
L 110.02958 265.569075 
L 107.344343 264.675823 
L 101.204114 262.142258 
L 96.105926 259.482967 
L 91.985907 256.823676 
L 88.531885 254.164384 
L 85.651125 251.505093 
L 83.163755 248.845802 
L 80.491973 245.4408 
L 77.522527 240.867928 
L 74.774589 235.549345 
L 72.436261 229.896399 
L 70.822758 224.91218 
L 69.34237 219.593597 
L 67.617814 211.615723 
L 66.692161 206.297141 
L 65.610451 198.319267 
L 64.721086 190.341393 
L 64.05043 182.363519 
L 63.40009 171.726354 
L 62.805598 158.429897 
L 62.320094 142.474149 
L 61.921922 121.199819 
L 61.659227 94.606906 
L 61.489537 46.739662 
L 61.44859 17.487457 
M 135.585246 17.487457 
L 135.700194 73.332575 
L 135.950948 97.266197 
L 136.317258 113.221945 
L 136.861563 126.518401 
L 137.362244 134.496275 
L 138.059238 142.474149 
L 139.037939 150.452023 
L 139.913806 155.770606 
L 141.040833 161.089188 
L 142.496136 166.407771 
L 143.397 169.067062 
L 144.937662 172.893045 
L 145.634122 174.385645 
L 147.622899 178.012688 
L 148.720337 179.704228 
L 150.717416 182.363519 
L 153.151166 185.02281 
L 156.189189 187.682102 
L 158.363848 189.25456 
L 161.049085 190.91413 
L 165.241484 193.000684 
L 166.419559 193.505087 
L 169.104796 194.52646 
L 172.604513 195.659976 
L 177.160507 196.859861 
L 182.530981 197.975999 
L 187.901456 198.843402 
L 193.27193 199.525811 
L 201.327641 200.297898 
L 211.697438 200.978558 
L 220.1243 201.355786 
L 233.550486 201.747786 
L 252.347145 202.041113 
L 279.199516 202.209496 
L 322.163309 202.262734 
L 322.163309 202.262734 
" clip-path="url(#pe00941e252)" style="fill: none; stroke: #355e8d; stroke-width: 1.5"/>
    <path d="M 322.163309 276.639762 
L 249.661908 276.458554 
L 214.753826 276.164725 
L 190.586693 275.734944 
L 177.160507 275.331896 
L 163.734322 274.686712 
L 152.993374 273.981149 
L 142.252425 273.051526 
L 136.881951 272.433243 
L 128.82624 271.260797 
L 122.260836 270.120132 
L 118.085292 269.175767 
L 111.419724 267.460841 
L 107.344343 266.116796 
L 103.703726 264.80155 
L 99.288632 262.844097 
L 96.603395 261.481648 
L 93.157078 259.482967 
L 89.340142 256.823676 
L 86.134953 254.164384 
L 85.862447 253.914278 
L 83.17721 251.23522 
L 80.491973 248.061001 
L 77.806736 244.280945 
L 75.788554 240.867928 
L 74.412812 238.208637 
L 72.070279 232.890054 
L 69.751024 226.19476 
L 68.683965 222.252889 
L 67.065787 215.458398 
L 65.913994 208.956432 
L 64.730109 200.978558 
L 64.105793 195.659976 
L 63.1671 185.02281 
L 62.454653 174.385645 
L 61.803175 161.089188 
L 61.463749 150.452023 
L 61.077582 131.836984 
L 60.770591 105.244071 
L 60.56885 65.354701 
L 60.482547 17.487457 
M 138.694076 17.487457 
L 138.823019 70.673284 
L 139.089864 94.606906 
L 139.474349 110.562653 
L 139.905496 121.199819 
L 140.566428 131.836984 
L 141.289346 139.814858 
L 142.252425 147.454732 
L 142.731116 150.452023 
L 143.760497 155.770606 
L 145.078799 161.089188 
L 146.819186 166.407771 
L 147.887037 169.067062 
L 149.143262 171.726354 
L 150.601837 174.385645 
L 152.993374 177.92346 
L 155.678611 181.069396 
L 158.363848 183.593411 
L 161.049085 185.665148 
L 164.242318 187.682102 
L 166.419559 188.835721 
L 169.737942 190.341393 
L 171.790033 191.137341 
L 177.160507 192.860911 
L 179.845744 193.555786 
L 185.216218 194.706865 
L 190.92799 195.659976 
L 195.957167 196.316925 
L 204.012878 197.11678 
L 212.068589 197.691987 
L 222.809537 198.220497 
L 236.235723 198.631181 
L 255.032382 198.940856 
L 281.884753 199.122248 
L 322.163309 199.183943 
L 322.163309 199.183943 
" clip-path="url(#pe00941e252)" style="fill: none; stroke: #32658e; stroke-width: 1.5"/>
    <path d="M 322.163309 277.59647 
L 249.661908 277.412957 
L 214.753826 277.114638 
L 193.27193 276.741093 
L 177.160507 276.283421 
L 163.734322 275.720552 
L 155.678611 275.246246 
L 144.937662 274.359458 
L 136.881951 273.516197 
L 130.985382 272.779424 
L 123.455766 271.498517 
L 116.643408 270.120132 
L 112.714818 269.092378 
L 107.131026 267.460841 
L 101.973869 265.524692 
L 99.288632 264.379442 
L 94.831805 262.142258 
L 91.232921 259.958183 
L 88.547684 258.052988 
L 85.862447 255.887304 
L 83.17721 253.37316 
L 80.491973 250.412876 
L 77.806736 246.898944 
L 75.655223 243.527219 
L 74.192002 240.867928 
L 72.436261 237.299773 
L 70.661862 232.890054 
L 69.681622 230.230763 
L 68.103569 224.91218 
L 66.74775 219.593597 
L 65.185259 211.615723 
L 64.307523 206.297141 
L 63.333377 198.319267 
L 62.306655 187.682102 
L 61.550682 177.044936 
L 60.940465 163.74848 
L 60.444222 147.792732 
L 60.039407 126.518401 
L 59.749732 97.266197 
L 59.569403 52.058244 
L 59.516505 17.487457 
M 141.815702 17.487457 
L 141.938724 65.354701 
L 142.192057 89.288323 
L 142.556574 105.244071 
L 143.0921 118.540527 
L 143.77723 129.177693 
L 144.523991 137.155567 
L 145.182856 142.474149 
L 146.02016 147.792732 
L 147.079665 153.111314 
L 148.451448 158.429897 
L 150.238581 163.74848 
L 151.359491 166.407771 
L 152.993374 169.705393 
L 154.17665 171.726354 
L 155.974464 174.385645 
L 158.363848 177.283714 
L 161.049085 179.919431 
L 164.144634 182.363519 
L 166.419559 183.850968 
L 169.104796 185.365168 
L 171.790033 186.640906 
L 174.47527 187.750985 
L 179.845744 189.52085 
L 185.216218 190.879378 
L 190.586693 191.928646 
L 197.822313 193.000684 
L 204.012878 193.68428 
L 212.068589 194.347553 
L 222.809537 194.9577 
L 236.235723 195.435595 
L 252.347145 195.760699 
L 276.514279 195.986326 
L 316.792835 196.089138 
L 322.163309 196.092479 
L 322.163309 196.092479 
" clip-path="url(#pe00941e252)" style="fill: none; stroke: #2e6d8e; stroke-width: 1.5"/>
    <path d="M 322.163309 278.489125 
L 246.976671 278.316665 
L 212.068589 278.027964 
L 190.586693 277.620491 
L 174.47527 277.120648 
L 161.049085 276.505743 
L 150.308137 275.830422 
L 142.252425 275.142812 
L 134.196714 274.22171 
L 126.141003 273.096578 
L 123.455766 272.651808 
L 115.400055 270.966206 
L 110.02958 269.58556 
L 103.428621 267.460841 
L 99.288632 265.770482 
L 96.603395 264.558811 
L 92.146592 262.142258 
L 88.547684 259.790074 
L 88.118147 259.482967 
L 84.80435 256.823676 
L 81.997458 254.164384 
L 79.592875 251.505093 
L 77.496632 248.845802 
L 75.121498 245.281668 
L 72.436261 240.381656 
L 70.327023 235.549345 
L 69.319229 232.890054 
L 67.065787 225.737569 
L 66.211458 222.252889 
L 64.509411 214.275015 
L 64.060301 211.615723 
L 62.924192 203.637849 
L 61.994103 195.659976 
L 61.502405 190.341393 
L 60.770752 179.704228 
L 60.104138 166.407771 
L 59.562118 150.452023 
L 59.162961 131.836984 
L 58.888753 107.903362 
L 58.698195 68.013992 
L 58.615141 17.487457 
M 144.961018 17.487457 
L 145.09413 62.69541 
L 145.363065 86.629032 
L 145.743874 102.584779 
L 146.299433 115.881236 
L 147.007313 126.518401 
L 147.77936 134.496275 
L 148.465743 139.814858 
L 149.327395 145.133441 
L 150.418244 150.452023 
L 151.841743 155.770606 
L 152.993374 159.248341 
L 153.697228 161.089188 
L 155.678611 165.441996 
L 156.188055 166.407771 
L 158.363848 169.959005 
L 159.652568 171.726354 
L 161.917323 174.385645 
L 164.702095 177.044936 
L 166.419559 178.42796 
L 169.104796 180.293927 
L 172.765231 182.363519 
L 174.47527 183.18517 
L 179.019315 185.02281 
L 182.530981 186.163314 
L 187.901456 187.573058 
L 193.27193 188.653367 
L 198.642404 189.506693 
L 205.455532 190.341393 
L 212.068589 190.951031 
L 220.1243 191.503455 
L 230.865249 192.015494 
L 244.291434 192.419546 
L 263.088094 192.728605 
L 289.940464 192.914019 
L 322.163309 192.977554 
L 322.163309 192.977554 
" clip-path="url(#pe00941e252)" style="fill: none; stroke: #2c738e; stroke-width: 1.5"/>
    <path d="M 322.163309 279.311202 
L 246.976671 279.136891 
L 212.068589 278.85442 
L 187.901456 278.438148 
L 171.790033 277.947082 
L 158.363848 277.275507 
L 147.622899 276.538276 
L 136.881951 275.563207 
L 131.511477 274.890691 
L 123.455766 273.664532 
L 118.085292 272.691032 
L 112.714818 271.431795 
L 107.344343 269.992702 
L 101.973869 268.153082 
L 99.288632 267.106807 
L 93.918158 264.593971 
L 89.719607 262.142258 
L 85.862447 259.432001 
L 82.80807 256.823676 
L 80.151853 254.164384 
L 77.806736 251.440728 
L 75.121498 247.685203 
L 72.436261 243.140711 
L 69.751024 237.37709 
L 68.097016 232.890054 
L 67.065787 229.824059 
L 65.741327 224.91218 
L 64.38055 219.180233 
L 63.046729 211.615723 
L 61.88753 203.637849 
L 61.29729 198.319267 
L 60.378861 187.682102 
L 59.685067 177.044936 
L 59.053475 163.74848 
L 58.732258 153.111314 
L 58.317934 131.836984 
L 58.041974 105.244071 
L 57.854803 62.69541 
L 57.785043 17.487457 
M 148.145218 17.487457 
L 148.305985 62.69541 
L 148.567944 83.96974 
L 148.963806 99.925488 
L 149.538527 113.221945 
L 150.268228 123.85911 
L 151.074374 131.836984 
L 151.780772 137.155567 
L 152.66596 142.474149 
L 153.803959 147.792732 
L 155.264579 153.111314 
L 156.158999 155.770606 
L 157.19306 158.429897 
L 158.372843 161.089188 
L 159.779673 163.74848 
L 161.413353 166.407771 
L 163.734322 169.510184 
L 166.419559 172.396522 
L 169.104796 174.746177 
L 172.350752 177.044936 
L 174.47527 178.302083 
L 177.179602 179.704228 
L 179.845744 180.863702 
L 183.934256 182.363519 
L 187.901456 183.541141 
L 193.27193 184.821632 
L 198.642404 185.810361 
L 204.012878 186.592956 
L 212.068589 187.484321 
L 220.1243 188.120662 
L 230.865249 188.707355 
L 244.291434 189.171319 
L 260.402856 189.4914 
L 284.56999 189.718488 
L 322.163309 189.824121 
L 322.163309 189.824121 
" clip-path="url(#pe00941e252)" style="fill: none; stroke: #297b8e; stroke-width: 1.5"/>
    <path d="M 322.163309 280.133279 
L 246.976671 279.957117 
L 212.068589 279.671087 
L 187.901456 279.249164 
L 171.790033 278.772204 
L 156.790224 278.098006 
L 147.622899 277.446792 
L 136.881951 276.455005 
L 128.302743 275.438715 
L 120.770529 274.185541 
L 113.724794 272.779424 
L 110.02958 271.827791 
L 104.1417 270.120132 
L 99.288632 268.318466 
L 96.603395 267.203031 
L 91.232921 264.479802 
L 87.501575 262.142258 
L 83.960055 259.482967 
L 80.989155 256.823676 
L 80.491973 256.331298 
L 77.806736 253.389104 
L 75.121498 249.881803 
L 72.761148 246.186511 
L 71.330398 243.527219 
L 69.751024 240.305213 
L 67.851665 235.549345 
L 66.899396 232.890054 
L 65.341468 227.571471 
L 64.016511 222.252889 
L 62.481861 214.275015 
L 61.623911 208.956432 
L 60.669107 200.978558 
L 59.667644 190.341393 
L 58.923985 179.704228 
L 58.329301 166.407771 
L 57.847687 150.452023 
L 57.456663 129.177693 
L 57.178585 99.925488 
L 57.007104 54.717536 
L 56.954945 17.487457 
M 151.374517 17.487457 
L 151.542443 60.036118 
L 151.815911 81.310449 
L 152.22636 97.266197 
L 152.675729 107.903362 
L 153.359888 118.540527 
L 154.106148 126.518401 
L 155.139659 134.496275 
L 156.058381 139.814858 
L 157.236333 145.133441 
L 158.746846 150.452023 
L 159.679121 153.111314 
L 161.049085 156.468733 
L 161.984503 158.429897 
L 163.734322 161.600456 
L 165.14558 163.74848 
L 167.186908 166.407771 
L 169.664634 169.067062 
L 172.74142 171.726354 
L 174.47527 172.988023 
L 177.160507 174.69154 
L 179.845744 176.118556 
L 182.530981 177.352177 
L 185.216218 178.401663 
L 189.138114 179.704228 
L 193.27193 180.820848 
L 198.642404 181.987419 
L 204.012878 182.897263 
L 209.383352 183.616353 
L 217.439063 184.43928 
L 225.494775 185.036717 
L 236.235723 185.582407 
L 249.661908 186.016058 
L 268.458568 186.351427 
L 295.310938 186.55716 
L 322.163309 186.626025 
L 322.163309 186.626025 
" clip-path="url(#pe00941e252)" style="fill: none; stroke: #26828e; stroke-width: 1.5"/>
    <path d="M 322.163309 280.928741 
L 243.273351 280.757298 
L 212.068589 280.487754 
L 190.586693 280.122365 
L 171.790033 279.576579 
L 158.363848 278.979272 
L 147.622899 278.320809 
L 139.567188 277.625713 
L 131.511477 276.728043 
L 122.259974 275.438715 
L 115.400055 274.106678 
L 109.563989 272.779424 
L 104.659106 271.339459 
L 100.931477 270.120132 
L 96.603395 268.379438 
L 93.918158 267.173853 
L 89.504507 264.80155 
L 85.862447 262.436856 
L 85.449011 262.142258 
L 82.124133 259.482967 
L 79.314878 256.823676 
L 76.913466 254.164384 
L 74.824026 251.505093 
L 72.436261 247.898223 
L 70.040812 243.527219 
L 68.823465 240.867928 
L 66.703754 235.549345 
L 65.016134 230.230763 
L 64.262795 227.571471 
L 63.040346 222.252889 
L 61.695313 215.459252 
L 60.739327 208.956432 
L 59.768608 200.978558 
L 58.983114 193.000684 
L 58.26906 182.363519 
L 57.621006 169.067062 
L 57.096231 153.111314 
L 56.711442 134.496275 
L 56.407741 107.903362 
L 56.232611 70.673284 
L 56.151723 17.487457 
M 154.658015 17.487457 
L 154.831613 57.376827 
L 155.116334 78.651158 
L 155.541137 94.606906 
L 156.011195 105.244071 
L 156.72325 115.881236 
L 157.491616 123.85911 
L 158.363848 130.562027 
L 159.011132 134.496275 
L 160.087541 139.814858 
L 161.462893 145.133441 
L 163.263153 150.452023 
L 164.375039 153.111314 
L 166.419559 157.150322 
L 167.176693 158.429897 
L 169.104796 161.291979 
L 171.790033 164.498123 
L 174.47527 167.08438 
L 177.160507 169.216171 
L 181.137804 171.726354 
L 182.530981 172.472878 
L 186.71914 174.385645 
L 190.586693 175.799343 
L 195.957167 177.363198 
L 201.327641 178.561005 
L 207.985511 179.704228 
L 212.068589 180.254983 
L 220.1243 181.101723 
L 228.180012 181.717934 
L 238.92096 182.291844 
L 252.347145 182.741249 
L 268.458568 183.053175 
L 292.625701 183.277433 
L 322.163309 183.374253 
L 322.163309 183.374253 
" clip-path="url(#pe00941e252)" style="fill: none; stroke: #23898e; stroke-width: 1.5"/>
    <path d="M 322.163309 281.640344 
L 244.291434 281.4724 
L 209.383352 281.200532 
L 185.216218 280.797346 
L 171.790033 280.380954 
L 158.363848 279.775278 
L 147.622899 279.107507 
L 136.881951 278.220086 
L 131.511477 277.609669 
L 123.455766 276.490235 
L 117.159155 275.438715 
L 112.714818 274.47697 
L 105.921565 272.779424 
L 101.973869 271.516996 
L 98.03576 270.120132 
L 93.918158 268.330541 
L 91.232921 267.013694 
L 87.394859 264.80155 
L 83.563787 262.142258 
L 83.17721 261.840277 
L 80.383927 259.482967 
L 77.707262 256.823676 
L 75.121498 253.781542 
L 72.436261 249.987488 
L 70.202534 246.186511 
L 68.872839 243.527219 
L 67.065787 239.449403 
L 65.655295 235.549345 
L 63.992102 230.230763 
L 62.666441 224.91218 
L 61.524545 219.593597 
L 60.230988 211.615723 
L 59.010076 202.205977 
L 58.191541 193.000684 
L 57.467388 182.363519 
L 56.81023 169.067062 
L 56.2844 153.111314 
L 55.910665 131.836984 
L 55.646118 102.584779 
L 55.48414 57.376827 
L 55.433177 17.487457 
M 158.004691 17.487457 
L 158.182517 54.717536 
L 158.480618 75.991866 
L 158.928845 91.947614 
L 159.417416 102.584779 
L 160.151703 113.221945 
L 161.049085 122.077832 
L 161.645725 126.518401 
L 162.527073 131.836984 
L 163.734322 137.571187 
L 165.07673 142.474149 
L 166.419559 146.43958 
L 166.945654 147.792732 
L 169.104796 152.469535 
L 169.447077 153.111314 
L 171.790033 156.896606 
L 172.91432 158.429897 
L 175.167627 161.089188 
L 177.930822 163.74848 
L 181.393995 166.407771 
L 182.530981 167.156008 
L 185.86426 169.067062 
L 187.901456 170.05473 
L 191.953046 171.726354 
L 195.957167 173.056208 
L 201.327641 174.485896 
L 206.698115 175.581229 
L 212.068589 176.454061 
L 217.439063 177.15053 
L 225.494775 177.933647 
L 233.550486 178.506028 
L 244.291434 179.04133 
L 257.717619 179.468863 
L 276.514279 179.800069 
L 303.36665 180.003288 
L 322.163309 180.059914 
L 322.163309 180.059914 
" clip-path="url(#pe00941e252)" style="fill: none; stroke: #21908d; stroke-width: 1.5"/>
    <path d="M 322.163309 282.351947 
L 244.291434 282.182492 
L 209.383352 281.907754 
L 185.216218 281.500016 
L 169.104796 281.037154 
L 158.363848 280.571284 
L 147.622899 279.894206 
L 136.881951 278.994432 
L 128.547517 278.098006 
L 120.770529 276.920949 
L 112.714818 275.433243 
L 107.344343 274.098073 
L 101.973869 272.555324 
L 95.40627 270.120132 
L 91.232921 268.16597 
L 88.547684 266.716505 
L 85.427409 264.80155 
L 81.832865 262.142258 
L 78.817426 259.482967 
L 76.265039 256.823676 
L 74.072386 254.164384 
L 72.148475 251.505093 
L 69.751024 247.548596 
L 67.740114 243.527219 
L 66.579934 240.867928 
L 64.38055 234.874384 
L 63.049035 230.230763 
L 61.695313 224.887942 
L 60.198617 216.934306 
L 58.975324 208.956432 
L 58.104904 200.978558 
L 57.196352 190.341393 
L 56.512668 179.704228 
L 56.042252 169.067062 
L 55.574874 153.111314 
L 55.19691 131.836984 
L 54.929535 102.584779 
L 54.766003 57.376827 
L 54.714632 17.487457 
M 161.430876 17.487457 
L 161.615288 52.058244 
L 161.92912 73.332575 
L 162.393468 89.288323 
L 162.898222 99.925488 
L 163.43592 107.903362 
L 164.180527 115.881236 
L 165.217076 123.85911 
L 166.419559 130.652749 
L 167.290382 134.496275 
L 168.779034 139.814858 
L 169.692771 142.474149 
L 170.743654 145.133441 
L 171.94434 147.792732 
L 173.369647 150.452023 
L 175.027843 153.111314 
L 177.160507 155.965574 
L 179.845744 158.87366 
L 182.530981 161.248175 
L 186.061318 163.74848 
L 187.901456 164.84342 
L 190.91058 166.407771 
L 193.27193 167.44404 
L 197.646785 169.067062 
L 201.327641 170.170782 
L 206.698115 171.480074 
L 212.068589 172.493064 
L 217.439063 173.297141 
L 225.494775 174.218679 
L 233.550486 174.87708 
L 244.291434 175.488573 
L 257.717619 175.977295 
L 273.829042 176.319337 
L 297.996175 176.567986 
L 322.163309 176.666835 
L 322.163309 176.666835 
" clip-path="url(#pe00941e252)" style="fill: none; stroke: #1f978b; stroke-width: 1.5"/>
    <path d="M 322.163309 283.063549 
L 244.291434 282.892584 
L 209.383352 282.614976 
L 185.216218 282.202687 
L 169.104796 281.734482 
L 155.678611 281.154249 
L 144.937662 280.476481 
L 134.196714 279.497657 
L 126.141003 278.560797 
L 120.770529 277.778074 
L 112.714818 276.26876 
L 107.344343 275.032028 
L 101.973869 273.49293 
L 99.288632 272.629212 
L 92.999378 270.120132 
L 88.547684 267.879481 
L 85.862447 266.275649 
L 83.17721 264.488213 
L 80.178056 262.142258 
L 77.310312 259.482967 
L 74.855587 256.823676 
L 72.436261 253.733446 
L 69.751024 249.592288 
L 67.929247 246.186511 
L 66.662298 243.527219 
L 64.38055 237.788775 
L 62.858614 232.890054 
L 61.436299 227.571471 
L 59.807808 219.593597 
L 58.904533 214.275015 
L 57.890394 206.297141 
L 57.067809 198.319267 
L 56.224628 187.682102 
L 55.547347 174.385645 
L 55.000695 158.429897 
L 54.601464 139.814858 
L 54.28816 113.221945 
L 54.086552 73.332575 
L 53.996086 17.487457 
M 164.948422 17.487457 
L 165.162929 52.058244 
L 165.522945 73.332575 
L 165.941963 86.629032 
L 166.464486 97.266197 
L 167.033893 105.244071 
L 167.810827 113.221945 
L 168.484261 118.540527 
L 169.32785 123.85911 
L 170.408889 129.177693 
L 171.790033 134.560545 
L 173.569741 139.814858 
L 174.659594 142.474149 
L 175.946188 145.133441 
L 177.426223 147.792732 
L 179.845744 151.329546 
L 182.530981 154.459819 
L 185.216218 156.988631 
L 187.901456 159.076579 
L 191.037694 161.089188 
L 193.27193 162.291775 
L 196.385794 163.74848 
L 198.642404 164.645259 
L 204.012878 166.426837 
L 209.383352 167.77557 
L 214.753826 168.846164 
L 220.1243 169.681602 
L 228.180012 170.632336 
L 236.235723 171.325485 
L 246.976671 171.96682 
L 260.402856 172.472272 
L 276.514279 172.827082 
L 297.996175 173.067645 
L 322.163309 173.183276 
L 322.163309 173.183276 
" clip-path="url(#pe00941e252)" style="fill: none; stroke: #1f9f88; stroke-width: 1.5"/>
    <path d="M 322.163309 283.728899 
L 241.606197 283.566741 
L 209.383352 283.322198 
L 185.216218 282.905358 
L 169.104796 282.431811 
L 155.678611 281.84485 
L 144.937662 281.195712 
L 136.881951 280.543125 
L 128.82624 279.657706 
L 120.770529 278.567127 
L 115.400055 277.648225 
L 110.02958 276.521847 
L 104.659106 275.208782 
L 99.288632 273.544761 
L 96.603395 272.610702 
L 90.775825 270.120132 
L 85.856707 267.460841 
L 81.935806 264.80155 
L 78.662271 262.142258 
L 75.911189 259.482967 
L 73.571602 256.823676 
L 71.545442 254.164384 
L 69.747534 251.505093 
L 66.848428 246.186511 
L 64.38055 240.430496 
L 62.741322 235.549345 
L 61.228981 230.230763 
L 60.014201 224.91218 
L 58.957061 219.593597 
L 57.777158 211.615723 
L 56.818554 203.637849 
L 56.077729 195.659976 
L 55.373239 185.02281 
L 54.735968 171.726354 
L 54.221779 155.770606 
L 53.846239 137.155567 
L 53.580989 113.221945 
L 53.397044 70.673284 
L 53.324245 17.487457 
M 168.560294 17.487457 
L 168.776285 49.398953 
L 169.104796 68.788349 
L 169.488983 81.310449 
L 169.990032 91.947614 
L 170.738983 102.584779 
L 171.54172 110.562653 
L 172.251119 115.881236 
L 173.143431 121.199819 
L 174.47527 127.395319 
L 175.711524 131.836984 
L 177.160507 136.068158 
L 177.586996 137.155567 
L 178.754517 139.814858 
L 180.09362 142.474149 
L 182.530981 146.390691 
L 183.562031 147.792732 
L 185.808711 150.452023 
L 188.560028 153.111314 
L 192.002412 155.770606 
L 193.27193 156.60828 
L 196.423768 158.429897 
L 198.642404 159.51058 
L 202.425659 161.089188 
L 206.698115 162.524171 
L 212.068589 163.962154 
L 217.439063 165.06745 
L 222.809537 165.95114 
L 228.180012 166.653685 
L 236.235723 167.448666 
L 244.291434 168.032129 
L 255.032382 168.580351 
L 268.458568 169.020926 
L 284.56999 169.324894 
L 308.737124 169.546766 
L 322.163309 169.606303 
L 322.163309 169.606303 
" clip-path="url(#pe00941e252)" style="fill: none; stroke: #21a585; stroke-width: 1.5"/>
    <path d="M 322.163309 284.348707 
L 241.606197 284.185299 
L 206.698115 283.920737 
L 182.530981 283.525999 
L 169.104796 283.12914 
L 155.678611 282.535451 
L 144.937662 281.878834 
L 134.196714 281.003406 
L 128.82624 280.420347 
L 120.770529 279.315638 
L 112.714818 277.938406 
L 107.344343 276.718578 
L 101.973869 275.312697 
L 96.603395 273.515193 
L 93.918158 272.494542 
L 88.547684 270.031997 
L 84.107032 267.460841 
L 80.491973 264.932625 
L 80.322064 264.80155 
L 77.215313 262.142258 
L 74.577333 259.482967 
L 72.303907 256.823676 
L 69.751024 253.243547 
L 67.065787 248.678779 
L 64.38055 242.842536 
L 62.70174 238.208637 
L 61.695313 235.135119 
L 60.402963 230.230763 
L 59.010076 224.138835 
L 57.780565 216.934306 
L 56.665077 208.956432 
L 56.076329 203.637849 
L 55.19236 193.000684 
L 54.529337 182.363519 
L 53.929856 169.067062 
L 53.529125 155.770606 
L 53.163139 134.496275 
L 52.905431 105.244071 
L 52.744139 57.376827 
L 52.698389 17.487457 
M 172.288055 17.487457 
L 172.509374 46.739662 
L 172.839983 65.354701 
L 173.259065 78.651158 
L 173.778722 89.288323 
L 174.47527 98.993301 
L 175.097083 105.244071 
L 176.155833 113.221945 
L 177.160507 118.943112 
L 178.273873 123.85911 
L 179.845744 129.361091 
L 180.723387 131.836984 
L 182.530981 136.14791 
L 183.018667 137.155567 
L 185.216218 141.056356 
L 186.155537 142.474149 
L 188.159844 145.133441 
L 190.586693 147.79318 
L 193.590972 150.452023 
L 197.388793 153.111314 
L 198.642404 153.859467 
L 202.345129 155.770606 
L 204.012878 156.50603 
L 209.198164 158.429897 
L 212.068589 159.282375 
L 217.439063 160.613643 
L 222.809537 161.652111 
L 228.180012 162.471711 
L 236.235723 163.414288 
L 244.291434 164.09303 
L 255.032382 164.721 
L 268.458568 165.225718 
L 284.56999 165.581604 
L 306.051887 165.8245 
L 322.163309 165.914561 
L 322.163309 165.914561 
" clip-path="url(#pe00941e252)" style="fill: none; stroke: #26ad81; stroke-width: 1.5"/>
    <path d="M 322.163309 284.968516 
L 241.606197 284.803856 
L 206.698115 284.536945 
L 182.530981 284.138486 
L 166.419559 283.684394 
L 155.678611 283.226052 
L 144.937662 282.561956 
L 134.196714 281.676604 
L 125.580291 280.757298 
L 118.085292 279.636944 
L 109.708365 278.098006 
L 104.659106 276.855135 
L 99.288632 275.339264 
L 93.918158 273.399101 
L 91.232921 272.275138 
L 86.834517 270.120132 
L 83.17721 267.943885 
L 80.491973 266.064846 
L 77.806736 263.918378 
L 75.121498 261.413331 
L 72.436261 258.445418 
L 69.751024 254.896705 
L 67.619962 251.505093 
L 66.183069 248.845802 
L 64.38055 245.063676 
L 62.744709 240.867928 
L 61.695313 237.905499 
L 60.265074 232.890054 
L 58.941765 227.571471 
L 57.456123 219.593597 
L 56.25576 211.615723 
L 55.396563 203.637849 
L 54.502573 193.000684 
L 53.831998 182.363519 
L 53.369184 171.726354 
L 52.910662 155.770606 
L 52.54122 134.496275 
L 52.281197 105.244071 
L 52.118595 57.376827 
L 52.072533 17.487457 
M 176.147582 17.487457 
L 176.403626 46.739662 
L 176.783191 65.354701 
L 177.266276 78.651158 
L 177.879374 89.288323 
L 178.531671 97.266197 
L 179.420683 105.244071 
L 180.203048 110.562653 
L 181.195546 115.881236 
L 182.530981 121.539379 
L 184.068008 126.518401 
L 185.216218 129.599524 
L 186.193844 131.836984 
L 187.901456 135.210857 
L 189.062885 137.155567 
L 190.879645 139.814858 
L 193.27193 142.700078 
L 195.957167 145.337616 
L 199.043992 147.792732 
L 201.327641 149.301816 
L 204.012878 150.841648 
L 206.698115 152.143135 
L 209.383352 153.281422 
L 214.753826 155.105477 
L 217.439063 155.862461 
L 222.809537 157.093137 
L 228.180012 158.076045 
L 233.550486 158.850852 
L 241.606197 159.731273 
L 249.661908 160.377268 
L 260.402856 160.984442 
L 273.829042 161.462859 
L 289.940464 161.799292 
L 314.107598 162.047751 
L 322.163309 162.092326 
L 322.163309 162.092326 
" clip-path="url(#pe00941e252)" style="fill: none; stroke: #2eb37c; stroke-width: 1.5"/>
    <path d="M 322.163309 285.588325 
L 241.606197 285.422413 
L 206.698115 285.153152 
L 182.530981 284.750972 
L 166.419559 284.292519 
L 152.993374 283.722664 
L 144.937662 283.245078 
L 134.196714 282.349801 
L 126.141003 281.489501 
L 120.428925 280.757298 
L 112.714818 279.421549 
L 106.353089 278.098006 
L 101.973869 276.927484 
L 96.603395 275.283725 
L 90.28148 272.779424 
L 85.862447 270.567733 
L 83.17721 268.974764 
L 80.491973 267.197067 
L 77.429524 264.80155 
L 74.564826 262.142258 
L 72.117081 259.482967 
L 69.751024 256.459573 
L 67.065787 252.306259 
L 65.221617 248.845802 
L 63.964946 246.186511 
L 61.695313 240.430035 
L 60.192018 235.549345 
L 58.782309 230.230763 
L 57.173189 222.252889 
L 56.275812 216.934306 
L 55.275184 208.956432 
L 54.466012 200.978558 
L 53.626373 190.341393 
L 52.960418 177.044936 
L 52.424575 161.089188 
L 52.034562 142.474149 
L 51.729812 115.881236 
L 51.535044 75.991866 
L 51.446677 17.487457 
M 180.145074 17.487457 
L 180.406176 44.080371 
L 180.813392 62.69541 
L 181.328196 75.991866 
L 181.966798 86.629032 
L 182.649116 94.606906 
L 183.605171 102.584779 
L 184.434971 107.903362 
L 185.477205 113.221945 
L 186.822801 118.540527 
L 187.901456 122.035735 
L 189.614987 126.518401 
L 190.831466 129.177693 
L 193.27193 133.479661 
L 193.946788 134.496275 
L 195.957167 137.189509 
L 198.642404 140.110572 
L 201.327641 142.501879 
L 205.039411 145.133441 
L 206.698115 146.125021 
L 209.892284 147.792732 
L 212.068589 148.755049 
L 216.594991 150.452023 
L 220.1243 151.520255 
L 225.494775 152.852849 
L 230.865249 153.885013 
L 236.235723 154.706796 
L 244.291434 155.653612 
L 252.347145 156.329338 
L 263.088094 156.96177 
L 276.514279 157.471599 
L 292.625701 157.832501 
L 314.107598 158.080266 
L 322.163309 158.13346 
L 322.163309 158.13346 
" clip-path="url(#pe00941e252)" style="fill: none; stroke: #3aba76; stroke-width: 1.5"/>
    <path d="M 322.163309 286.191686 
L 238.92096 286.027711 
L 204.012878 285.736178 
L 182.530981 285.363459 
L 166.419559 284.900644 
L 152.993374 284.325302 
L 142.252425 283.687312 
L 134.196714 283.022999 
L 126.141003 282.153292 
L 118.085292 281.07866 
L 112.714818 280.153264 
L 107.344343 279.042546 
L 101.973869 277.727253 
L 96.603395 276.082106 
L 93.918158 275.141028 
L 88.322381 272.779424 
L 83.17721 270.005644 
L 79.401233 267.460841 
L 76.111342 264.80155 
L 73.349139 262.142258 
L 71.001691 259.482967 
L 68.969962 256.823676 
L 67.065787 253.97865 
L 64.273893 248.845802 
L 61.695313 242.748043 
L 60.188105 238.208637 
L 58.676528 232.890054 
L 57.476609 227.571471 
L 56.324839 221.667594 
L 55.251828 214.275015 
L 54.309281 206.297141 
L 53.558768 198.319267 
L 52.865924 187.682102 
L 52.240909 174.385645 
L 51.73811 158.429897 
L 51.333389 137.155567 
L 51.066894 110.562653 
L 50.90299 70.673284 
L 50.83743 17.487457 
M 184.316495 17.487457 
L 184.573909 41.421079 
L 184.920363 57.376827 
L 185.414109 70.673284 
L 186.036725 81.310449 
L 186.697691 89.288323 
L 187.596719 97.266197 
L 188.391917 102.584779 
L 189.394468 107.903362 
L 190.650235 113.221945 
L 192.297731 118.540527 
L 193.281355 121.199819 
L 194.447677 123.85911 
L 195.957167 126.857588 
L 197.345885 129.177693 
L 199.186244 131.836984 
L 201.38628 134.496275 
L 204.077993 137.155567 
L 207.442646 139.814858 
L 209.383352 141.098849 
L 212.068589 142.659431 
L 214.753826 143.969054 
L 217.463115 145.133441 
L 222.809537 146.962128 
L 228.180012 148.387906 
L 233.550486 149.497191 
L 239.379654 150.452023 
L 246.976671 151.377544 
L 255.032382 152.102205 
L 265.773331 152.783237 
L 276.514279 153.238487 
L 292.625701 153.65412 
L 314.107598 153.940496 
L 322.163309 154.002345 
L 322.163309 154.002345 
" clip-path="url(#pe00941e252)" style="fill: none; stroke: #46c06f; stroke-width: 1.5"/>
    <path d="M 322.163309 286.734412 
L 238.92096 286.575367 
L 204.012878 286.317923 
L 182.530981 285.975946 
L 166.419559 285.508769 
L 152.993374 284.92794 
L 142.252425 284.283854 
L 131.447008 283.416589 
L 123.455766 282.480174 
L 115.400055 281.31537 
L 110.02958 280.342157 
L 104.659106 279.140469 
L 99.288632 277.72147 
L 93.918158 275.945436 
L 91.232921 274.905787 
L 85.862447 272.43642 
L 81.820105 270.120132 
L 77.979202 267.460841 
L 77.806736 267.326871 
L 74.826772 264.80155 
L 72.165215 262.142258 
L 69.751024 259.312167 
L 67.065787 255.508376 
L 64.726901 251.505093 
L 63.422079 248.845802 
L 61.695313 244.89493 
L 60.257905 240.867928 
L 58.628208 235.549345 
L 57.330334 230.230763 
L 56.211425 224.91218 
L 54.950107 216.934306 
L 53.927901 208.956432 
L 53.391869 203.637849 
L 52.583123 193.000684 
L 51.852925 179.704228 
L 51.346273 166.407771 
L 50.940651 150.452023 
L 50.627159 126.518401 
L 50.416869 91.947614 
L 50.297021 28.124623 
L 50.289408 17.487457 
M 188.66974 17.487457 
L 188.976812 41.421079 
L 189.389023 57.376827 
L 189.970061 70.673284 
L 190.69391 81.310449 
L 191.486774 89.288323 
L 192.170351 94.606906 
L 193.27193 101.307412 
L 194.098144 105.244071 
L 195.467495 110.562653 
L 196.295016 113.221945 
L 197.252849 115.881236 
L 198.642404 119.223015 
L 199.605105 121.199819 
L 201.327641 124.286673 
L 204.012878 128.128 
L 204.872819 129.177693 
L 207.364541 131.836984 
L 210.443286 134.496275 
L 212.068589 135.686056 
L 214.753826 137.41401 
L 219.435154 139.814858 
L 222.809537 141.190986 
L 226.550689 142.474149 
L 230.865249 143.675804 
L 236.235723 144.88645 
L 241.606197 145.828288 
L 246.976671 146.580614 
L 255.032382 147.451142 
L 263.088094 148.082012 
L 273.829042 148.667502 
L 287.255227 149.141626 
L 303.36665 149.478795 
L 322.163309 149.691163 
L 322.163309 149.691163 
" clip-path="url(#pe00941e252)" style="fill: none; stroke: #56c667; stroke-width: 1.5"/>
    <path d="M 322.163309 287.277138 
L 238.92096 287.117044 
L 204.012878 286.85765 
L 179.845744 286.468445 
L 163.734322 286.016138 
L 150.308137 285.385342 
L 139.567188 284.686095 
L 128.82624 283.751837 
L 123.455766 283.140406 
L 115.400055 281.963542 
L 108.616289 280.757298 
L 104.659106 279.852607 
L 98.019508 278.098006 
L 93.918158 276.715283 
L 90.509973 275.438715 
L 85.862447 273.304473 
L 83.17721 271.851317 
L 80.312678 270.120132 
L 76.681686 267.460841 
L 73.643533 264.80155 
L 71.077047 262.142258 
L 68.875878 259.482967 
L 66.94779 256.823676 
L 64.38055 252.527865 
L 62.570264 248.845802 
L 61.405171 246.186511 
L 59.470165 240.867928 
L 58.641381 238.208637 
L 57.238356 232.890054 
L 56.048854 227.571471 
L 54.68275 219.593597 
L 53.582539 211.615723 
L 52.795413 203.637849 
L 51.979052 193.000684 
L 51.241941 179.704228 
L 50.757961 166.407771 
L 50.351357 147.792732 
L 50.057471 123.85911 
L 49.85094 86.629032 
L 49.741387 17.487457 
M 193.229174 17.487457 
L 193.537328 38.761788 
L 193.984936 54.717536 
L 194.464072 65.354701 
L 195.173249 75.991866 
L 195.957167 84.238815 
L 196.989638 91.947614 
L 197.913896 97.266197 
L 199.082572 102.584779 
L 200.588768 107.903362 
L 201.491763 110.562653 
L 202.550873 113.221945 
L 204.012878 116.410952 
L 205.164391 118.540527 
L 206.796857 121.199819 
L 209.383352 124.609822 
L 212.068589 127.458326 
L 214.753826 129.791535 
L 217.588887 131.836984 
L 220.1243 133.355888 
L 222.809537 134.758501 
L 225.494775 135.944154 
L 228.642297 137.155567 
L 233.550486 138.676124 
L 238.92096 139.998222 
L 244.291434 141.018704 
L 249.661908 141.840694 
L 257.717619 142.778932 
L 265.773331 143.453006 
L 276.514279 144.089252 
L 289.940464 144.604078 
L 306.051887 144.970288 
L 322.163309 145.175783 
L 322.163309 145.175783 
" clip-path="url(#pe00941e252)" style="fill: none; stroke: #65cb5e; stroke-width: 1.5"/>
    <path d="M 322.163309 287.819864 
L 238.92096 287.658721 
L 204.012878 287.397377 
L 179.845744 287.005089 
L 163.734322 286.556469 
L 150.308137 285.986617 
L 139.567188 285.280821 
L 128.82624 284.337907 
L 120.668978 283.416589 
L 112.714818 282.15695 
L 105.47915 280.757298 
L 101.973869 279.886182 
L 95.681897 278.098006 
L 91.232921 276.485348 
L 88.547684 275.415802 
L 83.17721 272.767801 
L 78.933876 270.120132 
L 75.401355 267.460841 
L 75.121498 267.225286 
L 72.436261 264.777749 
L 69.751024 261.865106 
L 67.065787 258.366718 
L 64.38055 254.143891 
L 61.695313 248.794413 
L 59.628932 243.527219 
L 58.720343 240.867928 
L 57.204454 235.549345 
L 55.931184 230.230763 
L 54.452331 222.252889 
L 53.626221 216.934306 
L 52.709294 208.956432 
L 51.757181 198.319267 
L 50.954365 186.061436 
L 50.469087 174.385645 
L 50.01609 158.429897 
L 49.652298 137.155567 
L 49.397453 107.903362 
L 49.239369 60.036118 
L 49.193365 17.487457 
M 198.046426 17.487457 
L 198.407164 38.761788 
L 198.824889 52.058244 
L 199.348107 62.69541 
L 200.123454 73.332575 
L 200.948173 81.310449 
L 201.671113 86.629032 
L 202.584078 91.947614 
L 203.719798 97.266197 
L 204.406994 99.925488 
L 206.075908 105.244071 
L 207.088923 107.903362 
L 208.269051 110.562653 
L 209.617352 113.221945 
L 212.068589 117.137175 
L 213.105404 118.540527 
L 215.35735 121.199819 
L 218.108869 123.85911 
L 221.541344 126.518401 
L 222.809537 127.358727 
L 225.931224 129.177693 
L 228.180012 130.281227 
L 231.857516 131.836984 
L 236.235723 133.327749 
L 241.606197 134.786524 
L 246.976671 135.911269 
L 252.347145 136.815413 
L 257.717619 137.531368 
L 265.773331 138.348119 
L 273.829042 138.951567 
L 284.56999 139.522807 
L 297.996175 139.981 
L 316.792835 140.339354 
L 322.163309 140.405078 
L 322.163309 140.405078 
" clip-path="url(#pe00941e252)" style="fill: none; stroke: #77d153; stroke-width: 1.5"/>
    <path d="M 322.163309 288.362591 
L 238.92096 288.200399 
L 204.012878 287.937104 
L 179.845744 287.541734 
L 163.734322 287.089505 
L 150.308137 286.525922 
L 139.567188 285.875548 
L 128.82624 284.923977 
L 120.770529 284.007741 
L 115.400055 283.259884 
L 107.344343 281.781055 
L 101.973869 280.59118 
L 96.603395 279.074786 
L 93.505805 278.098006 
L 88.547684 276.166886 
L 85.862447 274.963676 
L 81.717696 272.779424 
L 77.806736 270.280917 
L 77.579644 270.120132 
L 74.221334 267.460841 
L 71.396165 264.80155 
L 68.989981 262.142258 
L 66.903434 259.482967 
L 64.38055 255.609795 
L 62.174987 251.505093 
L 60.960038 248.845802 
L 58.869689 243.527219 
L 57.23264 238.208637 
L 55.861696 232.890054 
L 54.261583 224.91218 
L 53.397807 219.593597 
L 52.404114 211.615723 
L 51.602503 203.637849 
L 50.954365 195.625229 
L 50.246926 182.363519 
L 49.677431 166.407771 
L 49.264296 147.792732 
L 48.965835 123.85911 
L 48.756282 86.629032 
L 48.647111 20.146749 
L 48.645344 17.487457 
M 203.140776 17.487457 
L 203.502302 36.102497 
L 204.012878 50.70234 
L 204.52747 60.036118 
L 205.134454 68.013992 
L 205.95543 75.991866 
L 206.698115 81.547096 
L 207.568217 86.629032 
L 208.69722 91.947614 
L 210.142795 97.266197 
L 212.006988 102.584779 
L 213.175481 105.244071 
L 214.753826 108.359671 
L 216.077392 110.562653 
L 217.915703 113.221945 
L 220.1243 115.894598 
L 222.809537 118.552613 
L 226.145862 121.199819 
L 228.180012 122.548333 
L 230.865249 124.10914 
L 233.550486 125.422204 
L 236.235723 126.579407 
L 241.606197 128.425588 
L 246.976671 129.857195 
L 252.347145 130.975289 
L 257.717619 131.873059 
L 265.773331 132.871553 
L 273.829042 133.60617 
L 284.56999 134.299061 
L 295.310938 134.759178 
L 311.422361 135.184555 
L 322.163309 135.35995 
L 322.163309 135.35995 
" clip-path="url(#pe00941e252)" style="fill: none; stroke: #89d548; stroke-width: 1.5"/>
    <path d="M 322.163309 288.884841 
L 236.235723 288.729176 
L 201.327641 288.444327 
L 179.845744 288.078378 
L 163.734322 287.622541 
L 150.308137 287.054424 
L 139.567188 286.423021 
L 131.511477 285.776617 
L 123.455766 284.91603 
L 115.400055 283.849956 
L 110.02958 282.947355 
L 104.659106 281.844612 
L 99.288632 280.555832 
L 93.918158 278.918896 
L 91.232921 278.003937 
L 85.187778 275.438715 
L 80.263423 272.779424 
L 76.33546 270.120132 
L 73.069372 267.460841 
L 72.436261 266.882998 
L 69.751024 264.174556 
L 67.065787 260.940027 
L 64.38055 257.050017 
L 62.744099 254.164384 
L 61.377038 251.505093 
L 59.010076 245.938384 
L 57.327189 240.867928 
L 55.843885 235.549345 
L 54.651002 230.230763 
L 53.61492 224.91218 
L 52.459143 216.934306 
L 51.525718 208.956432 
L 50.794632 200.978558 
L 50.10857 190.341393 
L 49.4911 177.044936 
L 48.995654 161.089188 
L 48.5981 139.814858 
L 48.32019 110.562653 
L 48.172341 68.013992 
L 48.117998 17.487457 
M 208.560171 17.487457 
L 208.91751 33.443205 
L 209.418274 46.739662 
L 210.054921 57.376827 
L 210.727844 65.354701 
L 211.639527 73.332575 
L 212.440079 78.651158 
L 213.454008 83.96974 
L 214.753826 89.420842 
L 216.375733 94.606906 
L 217.439063 97.44997 
L 218.532528 99.925488 
L 220.1243 103.063583 
L 221.435405 105.244071 
L 223.273417 107.903362 
L 225.494775 110.589903 
L 228.180012 113.246593 
L 231.498604 115.881236 
L 233.550486 117.242091 
L 236.235723 118.803056 
L 238.92096 120.116919 
L 241.606197 121.274565 
L 246.976671 123.122685 
L 249.661908 123.89542 
L 255.032382 125.146369 
L 260.402856 126.150501 
L 265.773331 126.943318 
L 273.829042 127.846192 
L 281.884753 128.512613 
L 292.625701 129.143108 
L 303.36665 129.557988 
L 319.478072 129.946922 
L 322.163309 129.99292 
L 322.163309 129.99292 
" clip-path="url(#pe00941e252)" style="fill: none; stroke: #9dd93b; stroke-width: 1.5"/>
    <path d="M 322.163309 289.362255 
L 236.235723 289.206419 
L 201.327641 288.954036 
L 179.845744 288.615022 
L 163.734322 288.155576 
L 150.308137 287.582925 
L 139.567188 286.946491 
L 128.63893 286.07588 
L 120.770529 285.163543 
L 112.714818 284.00911 
L 107.344343 283.048868 
L 101.973869 281.856738 
L 96.603395 280.454479 
L 91.232921 278.688172 
L 88.547684 277.663889 
L 83.17721 275.215553 
L 78.925571 272.779424 
L 77.806736 272.042729 
L 75.094247 270.120132 
L 71.969683 267.460841 
L 69.322091 264.80155 
L 67.044612 262.142258 
L 64.38055 258.374942 
L 61.920652 254.164384 
L 60.63234 251.505093 
L 59.010076 247.786569 
L 57.492665 243.527219 
L 55.881487 238.208637 
L 54.592136 232.890054 
L 53.488247 227.571471 
L 52.236953 219.593597 
L 51.225689 211.615723 
L 50.696992 206.297141 
L 49.896521 195.659976 
L 49.175536 182.363519 
L 48.676488 169.067062 
L 48.230122 150.452023 
L 47.921566 123.85911 
L 47.727021 83.96974 
L 47.635927 17.487457 
M 214.360466 17.487457 
L 214.799144 33.443205 
L 215.281059 44.080371 
L 215.991791 54.717536 
L 216.744145 62.69541 
L 217.439063 68.368993 
L 218.214365 73.332575 
L 219.239193 78.651158 
L 220.533659 83.96974 
L 222.211246 89.288323 
L 223.229935 91.947614 
L 225.494775 96.760227 
L 225.769478 97.266197 
L 228.180012 101.112706 
L 229.269163 102.584779 
L 231.527869 105.244071 
L 234.285528 107.903362 
L 237.722158 110.562653 
L 238.92096 111.358031 
L 242.117104 113.221945 
L 244.291434 114.29139 
L 248.039481 115.881236 
L 252.347145 117.352417 
L 257.717619 118.820288 
L 263.088094 119.951986 
L 268.458568 120.863291 
L 273.829042 121.584981 
L 281.884753 122.409218 
L 289.940464 123.019464 
L 300.681413 123.59847 
L 314.107598 124.06265 
L 322.163309 124.248669 
L 322.163309 124.248669 
" clip-path="url(#pe00941e252)" style="fill: none; stroke: #b0dd2f; stroke-width: 1.5"/>
    <path d="M 322.163309 289.839668 
L 236.235723 289.682943 
L 201.327641 289.428921 
L 177.160507 289.045952 
L 161.049085 288.589523 
L 147.622899 287.968256 
L 136.881951 287.278014 
L 126.141003 286.353641 
L 120.770529 285.741443 
L 112.714818 284.577189 
L 106.119375 283.416589 
L 101.973869 282.479873 
L 95.405082 280.757298 
L 91.232921 279.361792 
L 87.842089 278.098006 
L 83.17721 275.966284 
L 80.491973 274.518914 
L 77.6087 272.779424 
L 73.972385 270.120132 
L 70.933778 267.460841 
L 68.369768 264.80155 
L 66.172882 262.142258 
L 64.250442 259.482967 
L 61.695313 255.194976 
L 59.887642 251.505093 
L 58.727975 248.845802 
L 56.804153 243.527219 
L 55.978493 240.867928 
L 54.585457 235.549345 
L 53.401929 230.230763 
L 52.047761 222.252889 
L 50.952808 214.275015 
L 50.173286 206.297141 
L 49.366534 195.659976 
L 48.639841 182.363519 
L 48.152558 169.067062 
L 47.751831 150.452023 
L 47.463155 126.518401 
L 47.261349 89.288323 
L 47.155432 20.146749 
L 47.153855 17.487457 
M 220.623611 17.487457 
L 221.066143 30.783914 
L 221.60841 41.421079 
L 222.178407 49.398953 
L 222.951584 57.376827 
L 224.037003 65.354701 
L 224.976336 70.673284 
L 226.172413 75.991866 
L 227.699163 81.310449 
L 228.626439 83.96974 
L 229.698519 86.629032 
L 230.910174 89.288323 
L 232.356145 91.947614 
L 234.023963 94.606906 
L 236.235723 97.543802 
L 238.92096 100.437485 
L 241.606197 102.812017 
L 245.00759 105.244071 
L 246.976671 106.426871 
L 249.7544 107.903362 
L 252.347145 109.058818 
L 256.279893 110.562653 
L 260.402856 111.837777 
L 265.930541 113.221945 
L 271.143805 114.225291 
L 276.514279 115.061851 
L 284.56999 116.025264 
L 292.625701 116.7132 
L 303.36665 117.365062 
L 316.792835 117.895141 
L 322.163309 118.046041 
L 322.163309 118.046041 
" clip-path="url(#pe00941e252)" style="fill: none; stroke: #c5e021; stroke-width: 1.5"/>
    <path d="M 322.163309 290.317081 
L 236.235723 290.159466 
L 201.327641 289.903806 
L 177.160507 289.518252 
L 161.049085 289.076036 
L 147.622899 288.495632 
L 136.881951 287.799986 
L 126.141003 286.868476 
L 118.085292 285.955323 
L 110.02958 284.695301 
L 103.321585 283.416589 
L 99.288632 282.431113 
L 93.325 280.757298 
L 88.547684 279.042531 
L 85.862447 277.966422 
L 80.491973 275.320215 
L 76.39901 272.779424 
L 72.850523 270.120132 
L 72.436261 269.771873 
L 69.751024 267.315412 
L 67.065787 264.391291 
L 64.38055 260.877091 
L 61.814969 256.823676 
L 61.695313 256.613847 
L 59.010076 251.20826 
L 57.053768 246.186511 
L 56.139182 243.527219 
L 54.634693 238.208637 
L 53.358981 232.890054 
L 51.894058 224.91218 
L 50.954365 218.709733 
L 50.154036 211.615723 
L 49.213438 200.978558 
L 48.511004 190.341393 
L 48.020598 179.704228 
L 47.539779 163.74848 
L 47.154904 142.474149 
L 46.886753 113.221945 
L 46.726983 68.013992 
L 46.671784 17.487457 
M 227.441938 17.487457 
L 227.994466 30.783914 
L 228.489608 38.761788 
L 229.164247 46.739662 
L 230.07657 54.717536 
L 230.865249 60.058075 
L 231.874302 65.354701 
L 233.134399 70.673284 
L 233.894134 73.332575 
L 235.753356 78.651158 
L 236.895313 81.310449 
L 238.92096 85.241916 
L 239.75685 86.629032 
L 241.606197 89.355555 
L 244.291434 92.557268 
L 246.976671 95.158531 
L 249.661908 97.316005 
L 253.747795 99.925488 
L 255.032382 100.624282 
L 259.220159 102.584779 
L 263.088094 104.036758 
L 268.458568 105.656137 
L 273.829042 106.904058 
L 279.199516 107.907079 
L 284.56999 108.68442 
L 292.625701 109.587928 
L 300.681413 110.256048 
L 311.422361 110.877637 
L 322.163309 111.293595 
L 322.163309 111.293595 
" clip-path="url(#pe00941e252)" style="fill: none; stroke: #d8e219; stroke-width: 1.5"/>
    <path d="M 322.163309 290.794494 
L 236.235723 290.635989 
L 201.327641 290.378691 
L 177.160507 289.990551 
L 161.049085 289.545314 
L 147.622899 288.98923 
L 139.567188 288.516902 
L 128.82624 287.644137 
L 120.770529 286.801437 
L 115.019318 286.07588 
L 107.344343 284.773039 
L 100.753441 283.416589 
L 96.603395 282.323036 
L 91.232921 280.709032 
L 85.862447 278.63735 
L 83.17721 277.418949 
L 79.385032 275.438715 
L 75.121498 272.731023 
L 71.798628 270.120132 
L 68.95185 267.460841 
L 66.527037 264.80155 
L 64.38055 262.075093 
L 61.695313 257.919921 
L 59.695758 254.164384 
L 58.46547 251.505093 
L 56.324839 246.047985 
L 54.743824 240.867928 
L 53.362626 235.549345 
L 51.778498 227.571471 
L 50.90054 222.252889 
L 49.917336 214.275015 
L 49.125875 206.297141 
L 48.269128 195.073488 
L 47.651117 182.363519 
L 47.129816 166.407771 
L 46.75249 147.792732 
L 46.459818 121.199819 
L 46.275032 81.310449 
L 46.189713 17.487457 
M 234.944686 17.487457 
L 235.496322 28.124623 
L 236.235723 37.925152 
L 236.880204 44.080371 
L 237.982472 52.058244 
L 238.935863 57.376827 
L 240.173774 62.69541 
L 241.727468 68.013992 
L 242.693013 70.673284 
L 244.291434 74.457403 
L 245.045369 75.991866 
L 246.976671 79.411799 
L 248.245491 81.310449 
L 250.291366 83.96974 
L 252.760561 86.629032 
L 255.806281 89.288323 
L 257.717619 90.691054 
L 260.402856 92.409381 
L 264.637528 94.606906 
L 265.773331 95.113793 
L 268.458568 96.189882 
L 271.517606 97.266197 
L 276.514279 98.684779 
L 281.96028 99.925488 
L 287.255227 100.854908 
L 292.625701 101.619554 
L 300.681413 102.508582 
L 308.737124 103.144215 
L 319.478072 103.745728 
L 322.163309 103.863342 
L 322.163309 103.863342 
" clip-path="url(#pe00941e252)" style="fill: none; stroke: #ece51b; stroke-width: 1.5"/>
    <path d="M 322.163309 291.271908 
L 236.235723 291.112513 
L 201.327641 290.853576 
L 177.160507 290.462851 
L 161.049085 290.014593 
L 147.622899 289.454718 
L 135.501955 288.735172 
L 126.141003 287.898147 
L 118.085292 286.985524 
L 110.02958 285.82412 
L 101.973869 284.243057 
L 96.603395 282.934405 
L 91.232921 281.313069 
L 88.547684 280.37283 
L 83.086751 278.098006 
L 77.806736 275.269523 
L 74.089845 272.779424 
L 70.787697 270.120132 
L 68.020674 267.460841 
L 65.672878 264.80155 
L 63.643881 262.142258 
L 61.695313 259.20642 
L 58.967513 254.164384 
L 56.713057 248.845802 
L 55.763645 246.186511 
L 54.12649 240.867928 
L 53.416316 238.208637 
L 52.235209 232.890054 
L 50.954365 226.103185 
L 50.035846 219.593597 
L 49.114319 211.615723 
L 48.269128 202.34522 
L 47.68296 193.000684 
L 47.074197 179.704228 
L 46.586798 163.74848 
L 46.196738 142.474149 
L 45.925102 113.221945 
L 45.763411 68.013992 
L 45.707642 17.487457 
M 243.312688 17.487457 
L 244.051116 28.124623 
L 244.853462 36.102497 
L 245.956378 44.080371 
L 246.976671 49.723276 
L 248.144051 54.717536 
L 249.692676 60.036118 
L 250.657829 62.69541 
L 252.347145 66.679994 
L 253.003157 68.013992 
L 255.032382 71.595576 
L 256.193755 73.332575 
L 258.229693 75.991866 
L 260.686751 78.651158 
L 263.717516 81.310449 
L 267.527277 83.96974 
L 268.458568 84.529879 
L 272.490818 86.629032 
L 273.829042 87.226668 
L 279.199516 89.257853 
L 281.884753 90.068568 
L 287.255227 91.43825 
L 292.625701 92.511209 
L 297.996175 93.360404 
L 306.051887 94.345833 
L 314.107598 95.055283 
L 322.163309 95.576195 
L 322.163309 95.576195 
" clip-path="url(#pe00941e252)" style="fill: none; stroke: #fde725; stroke-width: 1.5"/>
   </g>
   <g id="line2d_17">
    <defs>
     <path id="m3cdfd26f6e" d="M 0 1.25 
C 0.331504 1.25 0.649475 1.118292 0.883883 0.883883 
C 1.118292 0.649475 1.25 0.331504 1.25 0 
C 1.25 -0.331504 1.118292 -0.649475 0.883883 -0.883883 
C 0.649475 -1.118292 0.331504 -1.25 0 -1.25 
C -0.331504 -1.25 -0.649475 -1.118292 -0.883883 -0.883883 
C -1.118292 -0.649475 -1.25 -0.331504 -1.25 0 
C -1.25 0.331504 -1.118292 0.649475 -0.883883 0.883883 
C -0.649475 1.118292 -0.331504 1.25 0 1.25 
z
"/>
    </defs>
    <g clip-path="url(#pe00941e252)">
     <use href="#m3cdfd26f6e" x="257.9472" y="249.12"/>
     <use href="#m3cdfd26f6e" x="257.9472" y="248.4"/>
     <use href="#m3cdfd26f6e" x="257.2272" y="248.4"/>
     <use href="#m3cdfd26f6e" x="256.5072" y="248.4"/>
     <use href="#m3cdfd26f6e" x="255.7872" y="249.12"/>
     <use href="#m3cdfd26f6e" x="255.0672" y="249.12"/>
     <use href="#m3cdfd26f6e" x="254.3472" y="249.12"/>
     <use href="#m3cdfd26f6e" x="253.6272" y="249.12"/>
     <use href="#m3cdfd26f6e" x="252.9072" y="249.12"/>
     <use href="#m3cdfd26f6e" x="252.1872" y="249.12"/>
     <use href="#m3cdfd26f6e" x="251.4672" y="249.12"/>
     <use href="#m3cdfd26f6e" x="250.7472" y="249.12"/>
     <use href="#m3cdfd26f6e" x="250.0272" y="249.84"/>
     <use href="#m3cdfd26f6e" x="249.3072" y="249.84"/>
     <use href="#m3cdfd26f6e" x="248.5872" y="249.84"/>
     <use href="#m3cdfd26f6e" x="247.8672" y="249.84"/>
     <use href="#m3cdfd26f6e" x="247.1472" y="249.84"/>
     <use href="#m3cdfd26f6e" x="246.4272" y="249.84"/>
     <use href="#m3cdfd26f6e" x="245.7072" y="249.84"/>
     <use href="#m3cdfd26f6e" x="244.9872" y="249.84"/>
     <use href="#m3cdfd26f6e" x="244.9872" y="250.56"/>
     <use href="#m3cdfd26f6e" x="244.2672" y="250.56"/>
     <use href="#m3cdfd26f6e" x="243.5472" y="250.56"/>
     <use href="#m3cdfd26f6e" x="242.8272" y="250.56"/>
     <use href="#m3cdfd26f6e" x="242.1072" y="250.56"/>
     <use href="#m3cdfd26f6e" x="241.3872" y="250.56"/>
     <use href="#m3cdfd26f6e" x="240.6672" y="250.56"/>
     <use href="#m3cdfd26f6e" x="239.9472" y="250.56"/>
     <use href="#m3cdfd26f6e" x="239.2272" y="250.56"/>
     <use href="#m3cdfd26f6e" x="238.5072" y="250.56"/>
     <use href="#m3cdfd26f6e" x="237.7872" y="250.56"/>
     <use href="#m3cdfd26f6e" x="237.0672" y="250.56"/>
     <use href="#m3cdfd26f6e" x="236.3472" y="250.56"/>
     <use href="#m3cdfd26f6e" x="235.6272" y="250.56"/>
     <use href="#m3cdfd26f6e" x="234.9072" y="250.56"/>
     <use href="#m3cdfd26f6e" x="234.1872" y="250.56"/>
     <use href="#m3cdfd26f6e" x="233.4672" y="250.56"/>
     <use href="#m3cdfd26f6e" x="232.7472" y="249.84"/>
     <use href="#m3cdfd26f6e" x="232.0272" y="249.84"/>
     <use href="#m3cdfd26f6e" x="231.3072" y="249.84"/>
     <use href="#m3cdfd26f6e" x="230.5872" y="249.84"/>
     <use href="#m3cdfd26f6e" x="229.8672" y="249.84"/>
     <use href="#m3cdfd26f6e" x="229.1472" y="249.84"/>
     <use href="#m3cdfd26f6e" x="228.4272" y="249.84"/>
     <use href="#m3cdfd26f6e" x="227.7072" y="249.84"/>
     <use href="#m3cdfd26f6e" x="226.9872" y="249.84"/>
     <use href="#m3cdfd26f6e" x="226.2672" y="249.84"/>
     <use href="#m3cdfd26f6e" x="225.5472" y="249.84"/>
     <use href="#m3cdfd26f6e" x="225.5472" y="249.12"/>
     <use href="#m3cdfd26f6e" x="224.8272" y="249.12"/>
     <use href="#m3cdfd26f6e" x="224.1072" y="249.12"/>
     <use href="#m3cdfd26f6e" x="223.3872" y="249.12"/>
     <use href="#m3cdfd26f6e" x="222.6672" y="249.12"/>
     <use href="#m3cdfd26f6e" x="221.9472" y="249.12"/>
     <use href="#m3cdfd26f6e" x="221.2272" y="249.12"/>
     <use href="#m3cdfd26f6e" x="220.5072" y="249.12"/>
     <use href="#m3cdfd26f6e" x="219.7872" y="249.12"/>
     <use href="#m3cdfd26f6e" x="219.7872" y="248.4"/>
     <use href="#m3cdfd26f6e" x="219.0672" y="248.4"/>
     <use href="#m3cdfd26f6e" x="218.3472" y="248.4"/>
     <use href="#m3cdfd26f6e" x="217.6272" y="248.4"/>
     <use href="#m3cdfd26f6e" x="216.9072" y="248.4"/>
     <use href="#m3cdfd26f6e" x="216.1872" y="248.4"/>
     <use href="#m3cdfd26f6e" x="215.4672" y="248.4"/>
     <use href="#m3cdfd26f6e" x="214.7472" y="248.4"/>
     <use href="#m3cdfd26f6e" x="214.0272" y="247.68"/>
     <use href="#m3cdfd26f6e" x="213.3072" y="247.68"/>
     <use href="#m3cdfd26f6e" x="212.5872" y="247.68"/>
     <use href="#m3cdfd26f6e" x="211.8672" y="247.68"/>
     <use href="#m3cdfd26f6e" x="211.1472" y="247.68"/>
     <use href="#m3cdfd26f6e" x="210.4272" y="247.68"/>
     <use href="#m3cdfd26f6e" x="209.7072" y="247.68"/>
     <use href="#m3cdfd26f6e" x="209.7072" y="246.96"/>
     <use href="#m3cdfd26f6e" x="208.9872" y="246.96"/>
     <use href="#m3cdfd26f6e" x="208.2672" y="246.96"/>
     <use href="#m3cdfd26f6e" x="207.5472" y="246.96"/>
     <use href="#m3cdfd26f6e" x="206.8272" y="246.96"/>
     <use href="#m3cdfd26f6e" x="206.1072" y="246.96"/>
     <use href="#m3cdfd26f6e" x="205.3872" y="246.96"/>
     <use href="#m3cdfd26f6e" x="204.6672" y="246.96"/>
     <use href="#m3cdfd26f6e" x="203.9472" y="246.96"/>
     <use href="#m3cdfd26f6e" x="203.2272" y="246.96"/>
     <use href="#m3cdfd26f6e" x="203.2272" y="246.24"/>
     <use href="#m3cdfd26f6e" x="202.5072" y="246.24"/>
     <use href="#m3cdfd26f6e" x="201.7872" y="246.24"/>
     <use href="#m3cdfd26f6e" x="201.0672" y="246.24"/>
     <use href="#m3cdfd26f6e" x="200.3472" y="246.24"/>
     <use href="#m3cdfd26f6e" x="199.6272" y="246.24"/>
     <use href="#m3cdfd26f6e" x="198.9072" y="246.24"/>
     <use href="#m3cdfd26f6e" x="198.1872" y="246.24"/>
     <use href="#m3cdfd26f6e" x="197.4672" y="246.24"/>
     <use href="#m3cdfd26f6e" x="196.7472" y="246.24"/>
     <use href="#m3cdfd26f6e" x="196.0272" y="246.24"/>
     <use href="#m3cdfd26f6e" x="195.3072" y="246.24"/>
     <use href="#m3cdfd26f6e" x="194.5872" y="246.24"/>
     <use href="#m3cdfd26f6e" x="193.8672" y="246.24"/>
     <use href="#m3cdfd26f6e" x="193.1472" y="246.24"/>
     <use href="#m3cdfd26f6e" x="192.4272" y="246.96"/>
     <use href="#m3cdfd26f6e" x="191.7072" y="246.96"/>
     <use href="#m3cdfd26f6e" x="190.9872" y="246.96"/>
     <use href="#m3cdfd26f6e" x="190.2672" y="246.96"/>
     <use href="#m3cdfd26f6e" x="189.5472" y="246.96"/>
     <use href="#m3cdfd26f6e" x="188.8272" y="246.96"/>
     <use href="#m3cdfd26f6e" x="188.1072" y="246.96"/>
     <use href="#m3cdfd26f6e" x="187.3872" y="246.96"/>
     <use href="#m3cdfd26f6e" x="186.6672" y="246.96"/>
     <use href="#m3cdfd26f6e" x="185.9472" y="246.96"/>
     <use href="#m3cdfd26f6e" x="185.9472" y="247.68"/>
     <use href="#m3cdfd26f6e" x="185.2272" y="247.68"/>
     <use href="#m3cdfd26f6e" x="184.5072" y="247.68"/>
     <use href="#m3cdfd26f6e" x="183.7872" y="247.68"/>
     <use href="#m3cdfd26f6e" x="183.0672" y="247.68"/>
     <use href="#m3cdfd26f6e" x="182.3472" y="247.68"/>
     <use href="#m3cdfd26f6e" x="181.6272" y="247.68"/>
     <use href="#m3cdfd26f6e" x="180.9072" y="247.68"/>
     <use href="#m3cdfd26f6e" x="180.9072" y="248.4"/>
     <use href="#m3cdfd26f6e" x="180.1872" y="248.4"/>
     <use href="#m3cdfd26f6e" x="179.4672" y="248.4"/>
     <use href="#m3cdfd26f6e" x="178.7472" y="248.4"/>
     <use href="#m3cdfd26f6e" x="178.0272" y="248.4"/>
     <use href="#m3cdfd26f6e" x="177.3072" y="248.4"/>
     <use href="#m3cdfd26f6e" x="176.5872" y="248.4"/>
     <use href="#m3cdfd26f6e" x="175.8672" y="248.4"/>
     <use href="#m3cdfd26f6e" x="175.1472" y="248.4"/>
     <use href="#m3cdfd26f6e" x="174.4272" y="248.4"/>
     <use href="#m3cdfd26f6e" x="173.7072" y="248.4"/>
     <use href="#m3cdfd26f6e" x="173.7072" y="249.12"/>
     <use href="#m3cdfd26f6e" x="172.9872" y="249.12"/>
     <use href="#m3cdfd26f6e" x="172.2672" y="249.12"/>
     <use href="#m3cdfd26f6e" x="171.5472" y="249.12"/>
     <use href="#m3cdfd26f6e" x="170.8272" y="249.12"/>
     <use href="#m3cdfd26f6e" x="170.1072" y="249.12"/>
     <use href="#m3cdfd26f6e" x="169.3872" y="249.12"/>
     <use href="#m3cdfd26f6e" x="168.6672" y="249.12"/>
     <use href="#m3cdfd26f6e" x="167.9472" y="249.12"/>
     <use href="#m3cdfd26f6e" x="167.2272" y="249.12"/>
     <use href="#m3cdfd26f6e" x="166.5072" y="249.12"/>
     <use href="#m3cdfd26f6e" x="165.7872" y="248.4"/>
     <use href="#m3cdfd26f6e" x="165.0672" y="248.4"/>
     <use href="#m3cdfd26f6e" x="164.3472" y="248.4"/>
     <use href="#m3cdfd26f6e" x="163.6272" y="248.4"/>
     <use href="#m3cdfd26f6e" x="162.9072" y="248.4"/>
     <use href="#m3cdfd26f6e" x="162.1872" y="248.4"/>
     <use href="#m3cdfd26f6e" x="161.4672" y="248.4"/>
     <use href="#m3cdfd26f6e" x="160.7472" y="248.4"/>
     <use href="#m3cdfd26f6e" x="160.0272" y="248.4"/>
     <use href="#m3cdfd26f6e" x="159.3072" y="248.4"/>
     <use href="#m3cdfd26f6e" x="159.3072" y="247.68"/>
     <use href="#m3cdfd26f6e" x="158.5872" y="247.68"/>
     <use href="#m3cdfd26f6e" x="157.8672" y="247.68"/>
     <use href="#m3cdfd26f6e" x="157.1472" y="247.68"/>
     <use href="#m3cdfd26f6e" x="156.4272" y="247.68"/>
     <use href="#m3cdfd26f6e" x="155.7072" y="247.68"/>
     <use href="#m3cdfd26f6e" x="155.7072" y="246.96"/>
     <use href="#m3cdfd26f6e" x="154.9872" y="246.96"/>
     <use href="#m3cdfd26f6e" x="154.2672" y="246.96"/>
     <use href="#m3cdfd26f6e" x="153.5472" y="246.96"/>
     <use href="#m3cdfd26f6e" x="152.8272" y="246.96"/>
     <use href="#m3cdfd26f6e" x="152.8272" y="246.24"/>
     <use href="#m3cdfd26f6e" x="152.1072" y="246.24"/>
     <use href="#m3cdfd26f6e" x="151.3872" y="246.24"/>
     <use href="#m3cdfd26f6e" x="150.6672" y="246.24"/>
     <use href="#m3cdfd26f6e" x="149.9472" y="246.24"/>
     <use href="#m3cdfd26f6e" x="149.9472" y="245.52"/>
     <use href="#m3cdfd26f6e" x="149.2272" y="245.52"/>
     <use href="#m3cdfd26f6e" x="148.5072" y="245.52"/>
     <use href="#m3cdfd26f6e" x="147.7872" y="245.52"/>
     <use href="#m3cdfd26f6e" x="147.0672" y="245.52"/>
     <use href="#m3cdfd26f6e" x="147.0672" y="244.8"/>
     <use href="#m3cdfd26f6e" x="146.3472" y="244.8"/>
     <use href="#m3cdfd26f6e" x="145.6272" y="244.8"/>
     <use href="#m3cdfd26f6e" x="144.9072" y="244.8"/>
     <use href="#m3cdfd26f6e" x="144.1872" y="244.08"/>
     <use href="#m3cdfd26f6e" x="143.4672" y="244.08"/>
     <use href="#m3cdfd26f6e" x="142.7472" y="244.08"/>
     <use href="#m3cdfd26f6e" x="142.0272" y="244.08"/>
     <use href="#m3cdfd26f6e" x="142.0272" y="243.36"/>
     <use href="#m3cdfd26f6e" x="141.3072" y="243.36"/>
     <use href="#m3cdfd26f6e" x="140.5872" y="243.36"/>
     <use href="#m3cdfd26f6e" x="139.8672" y="243.36"/>
     <use href="#m3cdfd26f6e" x="139.1472" y="243.36"/>
     <use href="#m3cdfd26f6e" x="139.1472" y="242.64"/>
     <use href="#m3cdfd26f6e" x="138.4272" y="242.64"/>
     <use href="#m3cdfd26f6e" x="137.7072" y="242.64"/>
     <use href="#m3cdfd26f6e" x="136.9872" y="242.64"/>
     <use href="#m3cdfd26f6e" x="136.2672" y="242.64"/>
     <use href="#m3cdfd26f6e" x="136.2672" y="241.92"/>
     <use href="#m3cdfd26f6e" x="135.5472" y="241.92"/>
     <use href="#m3cdfd26f6e" x="134.8272" y="241.92"/>
     <use href="#m3cdfd26f6e" x="134.1072" y="241.92"/>
     <use href="#m3cdfd26f6e" x="133.3872" y="241.92"/>
     <use href="#m3cdfd26f6e" x="133.3872" y="241.2"/>
     <use href="#m3cdfd26f6e" x="132.6672" y="241.2"/>
     <use href="#m3cdfd26f6e" x="131.9472" y="241.2"/>
     <use href="#m3cdfd26f6e" x="131.2272" y="241.2"/>
     <use href="#m3cdfd26f6e" x="130.5072" y="241.2"/>
     <use href="#m3cdfd26f6e" x="130.5072" y="240.48"/>
     <use href="#m3cdfd26f6e" x="129.7872" y="240.48"/>
     <use href="#m3cdfd26f6e" x="129.0672" y="240.48"/>
     <use href="#m3cdfd26f6e" x="128.3472" y="240.48"/>
     <use href="#m3cdfd26f6e" x="127.6272" y="240.48"/>
     <use href="#m3cdfd26f6e" x="127.6272" y="239.76"/>
     <use href="#m3cdfd26f6e" x="126.9072" y="239.76"/>
     <use href="#m3cdfd26f6e" x="126.1872" y="239.76"/>
     <use href="#m3cdfd26f6e" x="125.4672" y="239.76"/>
     <use href="#m3cdfd26f6e" x="124.7472" y="239.04"/>
     <use href="#m3cdfd26f6e" x="124.0272" y="239.04"/>
     <use href="#m3cdfd26f6e" x="123.3072" y="239.04"/>
     <use href="#m3cdfd26f6e" x="122.5872" y="239.04"/>
     <use href="#m3cdfd26f6e" x="122.5872" y="238.32"/>
     <use href="#m3cdfd26f6e" x="121.8672" y="238.32"/>
     <use href="#m3cdfd26f6e" x="121.1472" y="238.32"/>
     <use href="#m3cdfd26f6e" x="120.4272" y="238.32"/>
     <use href="#m3cdfd26f6e" x="120.4272" y="237.6"/>
     <use href="#m3cdfd26f6e" x="119.7072" y="237.6"/>
     <use href="#m3cdfd26f6e" x="118.9872" y="237.6"/>
     <use href="#m3cdfd26f6e" x="118.2672" y="236.88"/>
     <use href="#m3cdfd26f6e" x="117.5472" y="236.88"/>
     <use href="#m3cdfd26f6e" x="116.8272" y="236.88"/>
     <use href="#m3cdfd26f6e" x="116.8272" y="236.16"/>
     <use href="#m3cdfd26f6e" x="116.1072" y="236.16"/>
     <use href="#m3cdfd26f6e" x="115.3872" y="236.16"/>
     <use href="#m3cdfd26f6e" x="115.3872" y="235.44"/>
     <use href="#m3cdfd26f6e" x="114.6672" y="235.44"/>
     <use href="#m3cdfd26f6e" x="114.6672" y="234.72"/>
     <use href="#m3cdfd26f6e" x="113.9472" y="234.72"/>
     <use href="#m3cdfd26f6e" x="113.2272" y="234"/>
     <use href="#m3cdfd26f6e" x="112.5072" y="233.28"/>
     <use href="#m3cdfd26f6e" x="112.5072" y="232.56"/>
     <use href="#m3cdfd26f6e" x="111.7872" y="232.56"/>
     <use href="#m3cdfd26f6e" x="111.7872" y="231.84"/>
     <use href="#m3cdfd26f6e" x="111.0672" y="231.84"/>
     <use href="#m3cdfd26f6e" x="111.0672" y="231.12"/>
     <use href="#m3cdfd26f6e" x="111.0672" y="230.4"/>
     <use href="#m3cdfd26f6e" x="110.3472" y="230.4"/>
     <use href="#m3cdfd26f6e" x="110.3472" y="229.68"/>
     <use href="#m3cdfd26f6e" x="110.3472" y="228.96"/>
     <use href="#m3cdfd26f6e" x="109.6272" y="228.96"/>
     <use href="#m3cdfd26f6e" x="109.6272" y="228.24"/>
     <use href="#m3cdfd26f6e" x="109.6272" y="227.52"/>
     <use href="#m3cdfd26f6e" x="109.6272" y="226.8"/>
     <use href="#m3cdfd26f6e" x="108.9072" y="226.8"/>
     <use href="#m3cdfd26f6e" x="108.9072" y="226.08"/>
     <use href="#m3cdfd26f6e" x="108.9072" y="225.36"/>
     <use href="#m3cdfd26f6e" x="108.9072" y="224.64"/>
     <use href="#m3cdfd26f6e" x="108.1872" y="224.64"/>
     <use href="#m3cdfd26f6e" x="108.1872" y="223.92"/>
     <use href="#m3cdfd26f6e" x="108.1872" y="223.2"/>
     <use href="#m3cdfd26f6e" x="108.1872" y="222.48"/>
     <use href="#m3cdfd26f6e" x="107.4672" y="222.48"/>
     <use href="#m3cdfd26f6e" x="107.4672" y="221.76"/>
     <use href="#m3cdfd26f6e" x="107.4672" y="221.04"/>
     <use href="#m3cdfd26f6e" x="107.4672" y="220.32"/>
     <use href="#m3cdfd26f6e" x="106.7472" y="219.6"/>
     <use href="#m3cdfd26f6e" x="106.7472" y="218.88"/>
     <use href="#m3cdfd26f6e" x="106.7472" y="218.16"/>
     <use href="#m3cdfd26f6e" x="106.0272" y="217.44"/>
     <use href="#m3cdfd26f6e" x="106.0272" y="216.72"/>
     <use href="#m3cdfd26f6e" x="106.0272" y="216"/>
     <use href="#m3cdfd26f6e" x="105.3072" y="216"/>
     <use href="#m3cdfd26f6e" x="105.3072" y="215.28"/>
     <use href="#m3cdfd26f6e" x="105.3072" y="214.56"/>
     <use href="#m3cdfd26f6e" x="104.5872" y="213.84"/>
     <use href="#m3cdfd26f6e" x="104.5872" y="213.12"/>
     <use href="#m3cdfd26f6e" x="103.8672" y="213.12"/>
     <use href="#m3cdfd26f6e" x="103.8672" y="212.4"/>
     <use href="#m3cdfd26f6e" x="103.8672" y="211.68"/>
     <use href="#m3cdfd26f6e" x="103.1472" y="211.68"/>
     <use href="#m3cdfd26f6e" x="103.1472" y="210.96"/>
     <use href="#m3cdfd26f6e" x="102.4272" y="210.96"/>
     <use href="#m3cdfd26f6e" x="102.4272" y="210.24"/>
     <use href="#m3cdfd26f6e" x="101.7072" y="209.52"/>
     <use href="#m3cdfd26f6e" x="101.7072" y="208.8"/>
     <use href="#m3cdfd26f6e" x="100.9872" y="208.8"/>
     <use href="#m3cdfd26f6e" x="100.9872" y="208.08"/>
     <use href="#m3cdfd26f6e" x="100.2672" y="208.08"/>
     <use href="#m3cdfd26f6e" x="100.2672" y="207.36"/>
     <use href="#m3cdfd26f6e" x="99.5472" y="207.36"/>
     <use href="#m3cdfd26f6e" x="99.5472" y="206.64"/>
     <use href="#m3cdfd26f6e" x="98.8272" y="205.92"/>
     <use href="#m3cdfd26f6e" x="98.8272" y="205.2"/>
     <use href="#m3cdfd26f6e" x="98.1072" y="205.2"/>
     <use href="#m3cdfd26f6e" x="98.1072" y="204.48"/>
     <use href="#m3cdfd26f6e" x="97.3872" y="204.48"/>
     <use href="#m3cdfd26f6e" x="97.3872" y="203.76"/>
     <use href="#m3cdfd26f6e" x="96.6672" y="203.76"/>
     <use href="#m3cdfd26f6e" x="96.6672" y="203.04"/>
     <use href="#m3cdfd26f6e" x="95.9472" y="202.32"/>
     <use href="#m3cdfd26f6e" x="95.9472" y="201.6"/>
     <use href="#m3cdfd26f6e" x="95.2272" y="201.6"/>
     <use href="#m3cdfd26f6e" x="95.2272" y="200.88"/>
     <use href="#m3cdfd26f6e" x="94.5072" y="200.88"/>
     <use href="#m3cdfd26f6e" x="94.5072" y="200.16"/>
     <use href="#m3cdfd26f6e" x="93.7872" y="200.16"/>
     <use href="#m3cdfd26f6e" x="93.7872" y="199.44"/>
     <use href="#m3cdfd26f6e" x="93.0672" y="199.44"/>
     <use href="#m3cdfd26f6e" x="93.0672" y="198.72"/>
     <use href="#m3cdfd26f6e" x="92.3472" y="198.72"/>
     <use href="#m3cdfd26f6e" x="92.3472" y="198"/>
     <use href="#m3cdfd26f6e" x="92.3472" y="197.28"/>
     <use href="#m3cdfd26f6e" x="91.6272" y="197.28"/>
     <use href="#m3cdfd26f6e" x="91.6272" y="196.56"/>
     <use href="#m3cdfd26f6e" x="90.9072" y="196.56"/>
     <use href="#m3cdfd26f6e" x="90.9072" y="195.84"/>
     <use href="#m3cdfd26f6e" x="90.9072" y="195.12"/>
     <use href="#m3cdfd26f6e" x="90.1872" y="195.12"/>
     <use href="#m3cdfd26f6e" x="90.1872" y="194.4"/>
     <use href="#m3cdfd26f6e" x="90.1872" y="193.68"/>
     <use href="#m3cdfd26f6e" x="89.4672" y="193.68"/>
     <use href="#m3cdfd26f6e" x="89.4672" y="192.96"/>
     <use href="#m3cdfd26f6e" x="89.4672" y="192.24"/>
     <use href="#m3cdfd26f6e" x="88.7472" y="192.24"/>
     <use href="#m3cdfd26f6e" x="88.7472" y="191.52"/>
     <use href="#m3cdfd26f6e" x="88.7472" y="190.8"/>
     <use href="#m3cdfd26f6e" x="88.0272" y="190.8"/>
     <use href="#m3cdfd26f6e" x="88.0272" y="190.08"/>
     <use href="#m3cdfd26f6e" x="88.0272" y="189.36"/>
     <use href="#m3cdfd26f6e" x="88.0272" y="188.64"/>
     <use href="#m3cdfd26f6e" x="87.3072" y="188.64"/>
     <use href="#m3cdfd26f6e" x="87.3072" y="187.92"/>
     <use href="#m3cdfd26f6e" x="87.3072" y="187.2"/>
     <use href="#m3cdfd26f6e" x="87.3072" y="186.48"/>
     <use href="#m3cdfd26f6e" x="87.3072" y="185.76"/>
     <use href="#m3cdfd26f6e" x="87.3072" y="185.04"/>
     <use href="#m3cdfd26f6e" x="86.5872" y="185.04"/>
     <use href="#m3cdfd26f6e" x="86.5872" y="184.32"/>
     <use href="#m3cdfd26f6e" x="86.5872" y="183.6"/>
     <use href="#m3cdfd26f6e" x="86.5872" y="182.88"/>
     <use href="#m3cdfd26f6e" x="86.5872" y="182.16"/>
     <use href="#m3cdfd26f6e" x="86.5872" y="181.44"/>
     <use href="#m3cdfd26f6e" x="86.5872" y="180.72"/>
     <use href="#m3cdfd26f6e" x="87.3072" y="180"/>
     <use href="#m3cdfd26f6e" x="87.3072" y="179.28"/>
     <use href="#m3cdfd26f6e" x="87.3072" y="178.56"/>
     <use href="#m3cdfd26f6e" x="87.3072" y="177.84"/>
     <use href="#m3cdfd26f6e" x="87.3072" y="177.12"/>
     <use href="#m3cdfd26f6e" x="88.0272" y="177.12"/>
     <use href="#m3cdfd26f6e" x="88.0272" y="176.4"/>
     <use href="#m3cdfd26f6e" x="88.0272" y="175.68"/>
     <use href="#m3cdfd26f6e" x="88.7472" y="174.96"/>
     <use href="#m3cdfd26f6e" x="88.7472" y="174.24"/>
     <use href="#m3cdfd26f6e" x="89.4672" y="173.52"/>
     <use href="#m3cdfd26f6e" x="89.4672" y="172.8"/>
     <use href="#m3cdfd26f6e" x="89.4672" y="172.08"/>
     <use href="#m3cdfd26f6e" x="90.1872" y="172.08"/>
     <use href="#m3cdfd26f6e" x="90.1872" y="171.36"/>
     <use href="#m3cdfd26f6e" x="90.9072" y="170.64"/>
     <use href="#m3cdfd26f6e" x="90.9072" y="169.92"/>
     <use href="#m3cdfd26f6e" x="91.6272" y="169.92"/>
     <use href="#m3cdfd26f6e" x="91.6272" y="169.2"/>
     <use href="#m3cdfd26f6e" x="91.6272" y="168.48"/>
     <use href="#m3cdfd26f6e" x="92.3472" y="167.76"/>
     <use href="#m3cdfd26f6e" x="92.3472" y="167.04"/>
     <use href="#m3cdfd26f6e" x="93.0672" y="167.04"/>
     <use href="#m3cdfd26f6e" x="93.0672" y="166.32"/>
     <use href="#m3cdfd26f6e" x="93.0672" y="165.6"/>
     <use href="#m3cdfd26f6e" x="93.7872" y="164.88"/>
     <use href="#m3cdfd26f6e" x="93.7872" y="164.16"/>
     <use href="#m3cdfd26f6e" x="93.7872" y="163.44"/>
     <use href="#m3cdfd26f6e" x="94.5072" y="162.72"/>
     <use href="#m3cdfd26f6e" x="94.5072" y="162"/>
     <use href="#m3cdfd26f6e" x="94.5072" y="161.28"/>
     <use href="#m3cdfd26f6e" x="94.5072" y="160.56"/>
     <use href="#m3cdfd26f6e" x="94.5072" y="159.84"/>
     <use href="#m3cdfd26f6e" x="95.2272" y="159.12"/>
     <use href="#m3cdfd26f6e" x="95.2272" y="158.4"/>
     <use href="#m3cdfd26f6e" x="95.2272" y="157.68"/>
     <use href="#m3cdfd26f6e" x="95.2272" y="156.96"/>
     <use href="#m3cdfd26f6e" x="95.2272" y="156.24"/>
     <use href="#m3cdfd26f6e" x="95.2272" y="155.52"/>
     <use href="#m3cdfd26f6e" x="95.2272" y="154.8"/>
     <use href="#m3cdfd26f6e" x="95.2272" y="154.08"/>
     <use href="#m3cdfd26f6e" x="94.5072" y="154.08"/>
     <use href="#m3cdfd26f6e" x="94.5072" y="153.36"/>
     <use href="#m3cdfd26f6e" x="94.5072" y="152.64"/>
     <use href="#m3cdfd26f6e" x="94.5072" y="151.92"/>
     <use href="#m3cdfd26f6e" x="94.5072" y="151.2"/>
     <use href="#m3cdfd26f6e" x="94.5072" y="150.48"/>
     <use href="#m3cdfd26f6e" x="93.7872" y="149.76"/>
     <use href="#m3cdfd26f6e" x="93.7872" y="149.04"/>
     <use href="#m3cdfd26f6e" x="93.7872" y="148.32"/>
     <use href="#m3cdfd26f6e" x="93.7872" y="147.6"/>
     <use href="#m3cdfd26f6e" x="93.0672" y="147.6"/>
     <use href="#m3cdfd26f6e" x="93.0672" y="146.88"/>
     <use href="#m3cdfd26f6e" x="93.0672" y="146.16"/>
     <use href="#m3cdfd26f6e" x="93.0672" y="145.44"/>
     <use href="#m3cdfd26f6e" x="92.3472" y="145.44"/>
     <use href="#m3cdfd26f6e" x="92.3472" y="144.72"/>
     <use href="#m3cdfd26f6e" x="92.3472" y="144"/>
     <use href="#m3cdfd26f6e" x="92.3472" y="143.28"/>
     <use href="#m3cdfd26f6e" x="91.6272" y="142.56"/>
     <use href="#m3cdfd26f6e" x="91.6272" y="141.84"/>
     <use href="#m3cdfd26f6e" x="91.6272" y="141.12"/>
     <use href="#m3cdfd26f6e" x="90.9072" y="140.4"/>
     <use href="#m3cdfd26f6e" x="90.9072" y="139.68"/>
     <use href="#m3cdfd26f6e" x="90.9072" y="138.96"/>
     <use href="#m3cdfd26f6e" x="90.9072" y="138.24"/>
     <use href="#m3cdfd26f6e" x="90.1872" y="138.24"/>
     <use href="#m3cdfd26f6e" x="90.1872" y="137.52"/>
     <use href="#m3cdfd26f6e" x="90.1872" y="136.8"/>
     <use href="#m3cdfd26f6e" x="89.4672" y="136.08"/>
     <use href="#m3cdfd26f6e" x="89.4672" y="135.36"/>
     <use href="#m3cdfd26f6e" x="89.4672" y="134.64"/>
     <use href="#m3cdfd26f6e" x="88.7472" y="134.64"/>
     <use href="#m3cdfd26f6e" x="88.7472" y="133.92"/>
     <use href="#m3cdfd26f6e" x="88.7472" y="133.2"/>
     <use href="#m3cdfd26f6e" x="88.7472" y="132.48"/>
     <use href="#m3cdfd26f6e" x="88.0272" y="132.48"/>
     <use href="#m3cdfd26f6e" x="88.0272" y="131.76"/>
     <use href="#m3cdfd26f6e" x="88.0272" y="131.04"/>
     <use href="#m3cdfd26f6e" x="87.3072" y="130.32"/>
     <use href="#m3cdfd26f6e" x="87.3072" y="129.6"/>
     <use href="#m3cdfd26f6e" x="87.3072" y="128.88"/>
     <use href="#m3cdfd26f6e" x="86.5872" y="128.88"/>
     <use href="#m3cdfd26f6e" x="86.5872" y="128.16"/>
     <use href="#m3cdfd26f6e" x="86.5872" y="127.44"/>
     <use href="#m3cdfd26f6e" x="86.5872" y="126.72"/>
     <use href="#m3cdfd26f6e" x="85.8672" y="126"/>
     <use href="#m3cdfd26f6e" x="85.8672" y="125.28"/>
     <use href="#m3cdfd26f6e" x="85.8672" y="124.56"/>
     <use href="#m3cdfd26f6e" x="85.8672" y="123.84"/>
     <use href="#m3cdfd26f6e" x="85.1472" y="123.12"/>
     <use href="#m3cdfd26f6e" x="85.1472" y="122.4"/>
     <use href="#m3cdfd26f6e" x="85.1472" y="121.68"/>
     <use href="#m3cdfd26f6e" x="85.1472" y="120.96"/>
     <use href="#m3cdfd26f6e" x="85.1472" y="120.24"/>
     <use href="#m3cdfd26f6e" x="85.1472" y="119.52"/>
     <use href="#m3cdfd26f6e" x="84.4272" y="118.8"/>
     <use href="#m3cdfd26f6e" x="84.4272" y="118.08"/>
     <use href="#m3cdfd26f6e" x="84.4272" y="117.36"/>
     <use href="#m3cdfd26f6e" x="84.4272" y="116.64"/>
     <use href="#m3cdfd26f6e" x="84.4272" y="115.92"/>
     <use href="#m3cdfd26f6e" x="84.4272" y="115.2"/>
     <use href="#m3cdfd26f6e" x="84.4272" y="114.48"/>
     <use href="#m3cdfd26f6e" x="84.4272" y="113.76"/>
     <use href="#m3cdfd26f6e" x="84.4272" y="113.04"/>
     <use href="#m3cdfd26f6e" x="85.1472" y="113.04"/>
     <use href="#m3cdfd26f6e" x="85.1472" y="112.32"/>
     <use href="#m3cdfd26f6e" x="85.1472" y="111.6"/>
     <use href="#m3cdfd26f6e" x="85.1472" y="110.88"/>
     <use href="#m3cdfd26f6e" x="85.1472" y="110.16"/>
     <use href="#m3cdfd26f6e" x="85.1472" y="109.44"/>
     <use href="#m3cdfd26f6e" x="85.8672" y="109.44"/>
     <use href="#m3cdfd26f6e" x="85.8672" y="108.72"/>
     <use href="#m3cdfd26f6e" x="85.8672" y="108"/>
     <use href="#m3cdfd26f6e" x="85.8672" y="107.28"/>
     <use href="#m3cdfd26f6e" x="86.5872" y="107.28"/>
     <use href="#m3cdfd26f6e" x="86.5872" y="106.56"/>
     <use href="#m3cdfd26f6e" x="86.5872" y="105.84"/>
     <use href="#m3cdfd26f6e" x="87.3072" y="105.12"/>
     <use href="#m3cdfd26f6e" x="87.3072" y="104.4"/>
     <use href="#m3cdfd26f6e" x="88.0272" y="104.4"/>
     <use href="#m3cdfd26f6e" x="88.0272" y="103.68"/>
     <use href="#m3cdfd26f6e" x="88.0272" y="102.96"/>
     <use href="#m3cdfd26f6e" x="88.7472" y="102.96"/>
     <use href="#m3cdfd26f6e" x="88.7472" y="102.24"/>
     <use href="#m3cdfd26f6e" x="89.4672" y="101.52"/>
     <use href="#m3cdfd26f6e" x="89.4672" y="100.8"/>
     <use href="#m3cdfd26f6e" x="90.1872" y="100.8"/>
     <use href="#m3cdfd26f6e" x="90.1872" y="100.08"/>
     <use href="#m3cdfd26f6e" x="90.1872" y="99.36"/>
     <use href="#m3cdfd26f6e" x="90.9072" y="99.36"/>
     <use href="#m3cdfd26f6e" x="90.9072" y="98.64"/>
     <use href="#m3cdfd26f6e" x="91.6272" y="97.92"/>
     <use href="#m3cdfd26f6e" x="91.6272" y="97.2"/>
     <use href="#m3cdfd26f6e" x="92.3472" y="96.48"/>
     <use href="#m3cdfd26f6e" x="92.3472" y="95.76"/>
     <use href="#m3cdfd26f6e" x="92.3472" y="95.04"/>
     <use href="#m3cdfd26f6e" x="93.0672" y="95.04"/>
     <use href="#m3cdfd26f6e" x="93.0672" y="94.32"/>
     <use href="#m3cdfd26f6e" x="93.0672" y="93.6"/>
     <use href="#m3cdfd26f6e" x="93.0672" y="92.88"/>
     <use href="#m3cdfd26f6e" x="93.7872" y="92.88"/>
     <use href="#m3cdfd26f6e" x="93.7872" y="92.16"/>
     <use href="#m3cdfd26f6e" x="93.7872" y="91.44"/>
     <use href="#m3cdfd26f6e" x="93.7872" y="90.72"/>
     <use href="#m3cdfd26f6e" x="93.7872" y="90"/>
     <use href="#m3cdfd26f6e" x="94.5072" y="90"/>
     <use href="#m3cdfd26f6e" x="94.5072" y="89.28"/>
     <use href="#m3cdfd26f6e" x="94.5072" y="88.56"/>
     <use href="#m3cdfd26f6e" x="94.5072" y="87.84"/>
     <use href="#m3cdfd26f6e" x="94.5072" y="87.12"/>
     <use href="#m3cdfd26f6e" x="94.5072" y="86.4"/>
     <use href="#m3cdfd26f6e" x="94.5072" y="85.68"/>
     <use href="#m3cdfd26f6e" x="94.5072" y="84.96"/>
     <use href="#m3cdfd26f6e" x="94.5072" y="84.24"/>
     <use href="#m3cdfd26f6e" x="94.5072" y="83.52"/>
     <use href="#m3cdfd26f6e" x="94.5072" y="82.8"/>
     <use href="#m3cdfd26f6e" x="94.5072" y="82.08"/>
     <use href="#m3cdfd26f6e" x="94.5072" y="81.36"/>
     <use href="#m3cdfd26f6e" x="94.5072" y="80.64"/>
     <use href="#m3cdfd26f6e" x="93.7872" y="80.64"/>
     <use href="#m3cdfd26f6e" x="93.7872" y="79.92"/>
     <use href="#m3cdfd26f6e" x="93.7872" y="79.2"/>
     <use href="#m3cdfd26f6e" x="93.7872" y="78.48"/>
     <use href="#m3cdfd26f6e" x="93.7872" y="77.76"/>
     <use href="#m3cdfd26f6e" x="93.7872" y="77.04"/>
     <use href="#m3cdfd26f6e" x="93.0672" y="76.32"/>
     <use href="#m3cdfd26f6e" x="93.0672" y="75.6"/>
     <use href="#m3cdfd26f6e" x="93.0672" y="74.88"/>
     <use href="#m3cdfd26f6e" x="93.0672" y="74.16"/>
     <use href="#m3cdfd26f6e" x="92.3472" y="74.16"/>
     <use href="#m3cdfd26f6e" x="92.3472" y="73.44"/>
     <use href="#m3cdfd26f6e" x="92.3472" y="72.72"/>
     <use href="#m3cdfd26f6e" x="92.3472" y="72"/>
     <use href="#m3cdfd26f6e" x="91.6272" y="72"/>
     <use href="#m3cdfd26f6e" x="91.6272" y="71.28"/>
     <use href="#m3cdfd26f6e" x="91.6272" y="70.56"/>
     <use href="#m3cdfd26f6e" x="91.6272" y="69.84"/>
     <use href="#m3cdfd26f6e" x="90.9072" y="69.84"/>
     <use href="#m3cdfd26f6e" x="90.9072" y="69.12"/>
     <use href="#m3cdfd26f6e" x="90.9072" y="68.4"/>
     <use href="#m3cdfd26f6e" x="90.1872" y="67.68"/>
     <use href="#m3cdfd26f6e" x="90.1872" y="66.96"/>
     <use href="#m3cdfd26f6e" x="90.1872" y="66.24"/>
     <use href="#m3cdfd26f6e" x="89.4672" y="65.52"/>
     <use href="#m3cdfd26f6e" x="89.4672" y="64.8"/>
     <use href="#m3cdfd26f6e" x="89.4672" y="64.08"/>
     <use href="#m3cdfd26f6e" x="88.7472" y="64.08"/>
     <use href="#m3cdfd26f6e" x="88.7472" y="63.36"/>
     <use href="#m3cdfd26f6e" x="88.7472" y="62.64"/>
     <use href="#m3cdfd26f6e" x="88.7472" y="61.92"/>
     <use href="#m3cdfd26f6e" x="88.0272" y="61.92"/>
     <use href="#m3cdfd26f6e" x="88.0272" y="61.2"/>
     <use href="#m3cdfd26f6e" x="88.0272" y="60.48"/>
     <use href="#m3cdfd26f6e" x="87.3072" y="59.76"/>
     <use href="#m3cdfd26f6e" x="87.3072" y="59.04"/>
     <use href="#m3cdfd26f6e" x="87.3072" y="58.32"/>
     <use href="#m3cdfd26f6e" x="86.5872" y="57.6"/>
     <use href="#m3cdfd26f6e" x="86.5872" y="56.88"/>
     <use href="#m3cdfd26f6e" x="86.5872" y="56.16"/>
     <use href="#m3cdfd26f6e" x="85.8672" y="55.44"/>
     <use href="#m3cdfd26f6e" x="85.8672" y="54.72"/>
     <use href="#m3cdfd26f6e" x="85.8672" y="54"/>
     <use href="#m3cdfd26f6e" x="85.8672" y="53.28"/>
     <use href="#m3cdfd26f6e" x="85.1472" y="52.56"/>
     <use href="#m3cdfd26f6e" x="85.1472" y="51.84"/>
     <use href="#m3cdfd26f6e" x="85.1472" y="51.12"/>
     <use href="#m3cdfd26f6e" x="85.1472" y="50.4"/>
     <use href="#m3cdfd26f6e" x="85.1472" y="49.68"/>
     <use href="#m3cdfd26f6e" x="84.4272" y="48.96"/>
     <use href="#m3cdfd26f6e" x="84.4272" y="48.24"/>
     <use href="#m3cdfd26f6e" x="84.4272" y="47.52"/>
     <use href="#m3cdfd26f6e" x="84.4272" y="46.8"/>
     <use href="#m3cdfd26f6e" x="84.4272" y="46.08"/>
     <use href="#m3cdfd26f6e" x="84.4272" y="45.36"/>
     <use href="#m3cdfd26f6e" x="84.4272" y="44.64"/>
     <use href="#m3cdfd26f6e" x="84.4272" y="43.92"/>
     <use href="#m3cdfd26f6e" x="84.4272" y="43.2"/>
     <use href="#m3cdfd26f6e" x="84.4272" y="42.48"/>
     <use href="#m3cdfd26f6e" x="84.4272" y="41.76"/>
     <use href="#m3cdfd26f6e" x="84.4272" y="41.04"/>
     <use href="#m3cdfd26f6e" x="84.4272" y="40.32"/>
     <use href="#m3cdfd26f6e" x="84.4272" y="39.6"/>
     <use href="#m3cdfd26f6e" x="84.4272" y="38.88"/>
     <use href="#m3cdfd26f6e" x="85.1472" y="38.16"/>
     <use href="#m3cdfd26f6e" x="85.1472" y="37.44"/>
     <use href="#m3cdfd26f6e" x="85.1472" y="36.72"/>
     <use href="#m3cdfd26f6e" x="85.1472" y="36"/>
     <use href="#m3cdfd26f6e" x="85.8672" y="35.28"/>
     <use href="#m3cdfd26f6e" x="85.8672" y="34.56"/>
     <use href="#m3cdfd26f6e" x="85.8672" y="33.84"/>
     <use href="#m3cdfd26f6e" x="86.5872" y="33.84"/>
     <use href="#m3cdfd26f6e" x="86.5872" y="33.12"/>
     <use href="#m3cdfd26f6e" x="86.5872" y="32.4"/>
     <use href="#m3cdfd26f6e" x="87.3072" y="32.4"/>
     <use href="#m3cdfd26f6e" x="87.3072" y="31.68"/>
     <use href="#m3cdfd26f6e" x="87.3072" y="30.96"/>
     <use href="#m3cdfd26f6e" x="88.0272" y="30.24"/>
     <use href="#m3cdfd26f6e" x="88.0272" y="29.52"/>
     <use href="#m3cdfd26f6e" x="88.7472" y="29.52"/>
     <use href="#m3cdfd26f6e" x="88.7472" y="28.8"/>
     <use href="#m3cdfd26f6e" x="89.4672" y="28.08"/>
     <use href="#m3cdfd26f6e" x="89.4672" y="27.36"/>
     <use href="#m3cdfd26f6e" x="90.1872" y="27.36"/>
     <use href="#m3cdfd26f6e" x="90.1872" y="26.64"/>
     <use href="#m3cdfd26f6e" x="90.1872" y="25.92"/>
     <use href="#m3cdfd26f6e" x="90.9072" y="25.92"/>
     <use href="#m3cdfd26f6e" x="90.9072" y="25.2"/>
     <use href="#m3cdfd26f6e" x="91.6272" y="24.48"/>
     <use href="#m3cdfd26f6e" x="91.6272" y="23.76"/>
     <use href="#m3cdfd26f6e" x="92.3472" y="23.04"/>
     <use href="#m3cdfd26f6e" x="92.3472" y="22.32"/>
     <use href="#m3cdfd26f6e" x="92.3472" y="21.6"/>
     <use href="#m3cdfd26f6e" x="93.0672" y="21.6"/>
     <use href="#m3cdfd26f6e" x="93.0672" y="20.88"/>
     <use href="#m3cdfd26f6e" x="93.0672" y="20.16"/>
     <use href="#m3cdfd26f6e" x="93.0672" y="19.44"/>
     <use href="#m3cdfd26f6e" x="93.0672" y="18.72"/>
     <use href="#m3cdfd26f6e" x="93.7872" y="18"/>
     <use href="#m3cdfd26f6e" x="93.7872" y="17.28"/>
    </g>
   </g>
   <g id="line2d_18">
    <defs>
     <path id="mc3a0f6cae8" d="M -3 3 
L 3 -3 
M -3 -3 
L 3 3 
" style="stroke: #ff0000; stroke-width: 1.1"/>
    </defs>
    <g clip-path="url(#pe00941e252)">
     <use href="#mc3a0f6cae8" x="258.336" y="248.976" style="fill: #ff0000; stroke: #ff0000; stroke-width: 1.1"/>
    </g>
   </g>
   <g id="patch_3">
    <path d="M 43.7472 294.216 
L 43.7472 17.112 
" style="fill: none; stroke: #000000; stroke-width: 0.8; stroke-linejoin: miter; stroke-linecap: square"/>
   </g>
   <g id="patch_4">
    <path d="M 322.416 294.216 
L 322.416 17.112 
" style="fill: none; stroke: #000000; stroke-width: 0.8; stroke-linejoin: miter; stroke-linecap: square"/>
   </g>
   <g id="patch_5">
    <path d="M 43.7472 294.216 
L 322.416 294.216 
" style="fill: none; stroke: #000000; stroke-width: 0.8; stroke-linejoin: miter; stroke-linecap: square"/>
   </g>
   <g id="patch_6">
    <path d="M 43.7472 17.112 
L 322.416 17.112 
" style="fill: none; stroke: #000000; stroke-width: 0.8; stroke-linejoin: miter; stroke-linecap: square"/>
   </g>
  </g>
 </g>
 <defs>
  <clipPath id="pe00941e252">
   <rect x="43.7472" y="17.112" width="278.6688" height="277.104"/>
  </clipPath>
 </defs>
</svg>
</div><div id="bar"></div></body></html>
